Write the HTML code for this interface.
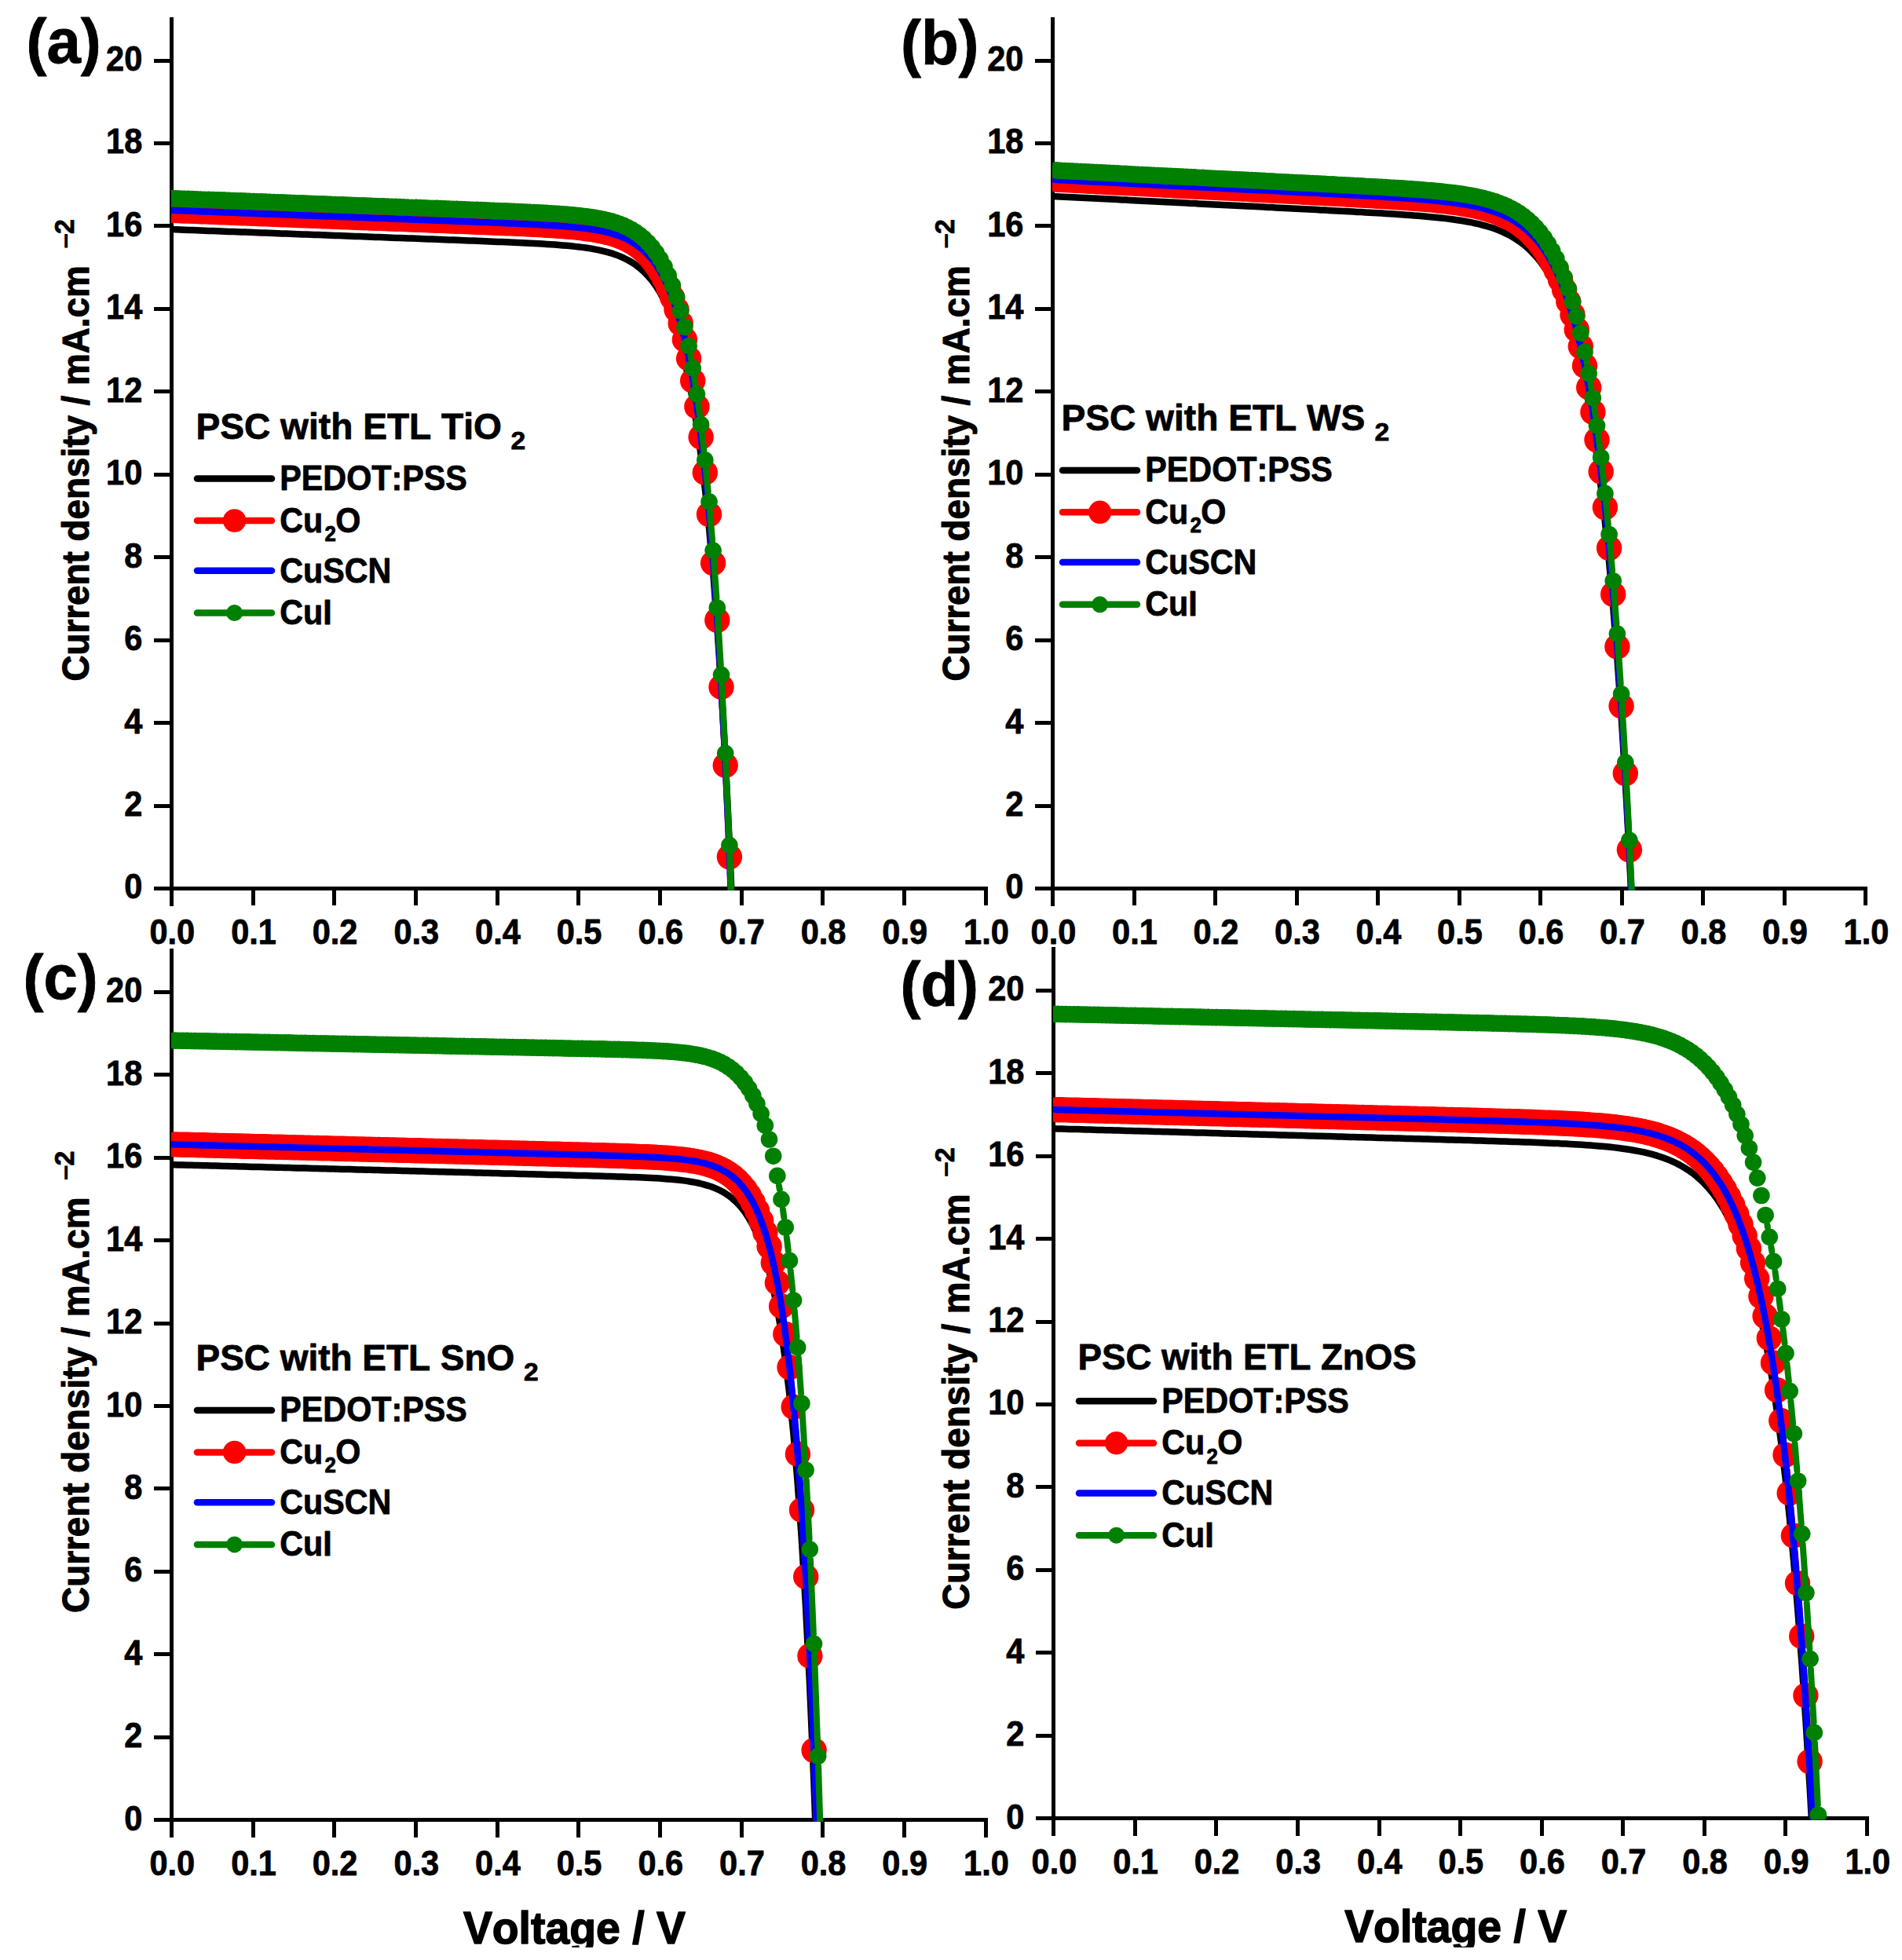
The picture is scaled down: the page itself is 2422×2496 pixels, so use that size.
<!DOCTYPE html>
<html lang="en"><head><meta charset="utf-8"><title>J-V curves of PSCs with different ETL / HTL</title>
<style>html,body{margin:0;padding:0;background:#fff}svg{display:block}text{font-family:'Liberation Sans', Arial, Helvetica, sans-serif;font-weight:bold;fill:#000;font-kerning:none;stroke:#000;stroke-width:0.8px;stroke-linejoin:round}</style></head><body>
<svg width="2422" height="2496" viewBox="0 0 2422 2496" role="img" aria-label="J-V curves">
<rect width="2422" height="2496" fill="#fff"/>
<g id="panel-a">
<g shape-rendering="crispEdges">
<rect x="216" y="21.8" width="5" height="1132.1"/>
<rect x="196" y="1128.9" width="1061.6" height="5"/>
<rect x="196" y="1023.5" width="22" height="5"/>
<rect x="196" y="918" width="22" height="5"/>
<rect x="196" y="812.6" width="22" height="5"/>
<rect x="196" y="707.1" width="22" height="5"/>
<rect x="196" y="601.7" width="22" height="5"/>
<rect x="196" y="496.3" width="22" height="5"/>
<rect x="196" y="390.8" width="22" height="5"/>
<rect x="196" y="285.4" width="22" height="5"/>
<rect x="196" y="179.9" width="22" height="5"/>
<rect x="196" y="74.5" width="22" height="5"/>
<rect x="319.7" y="1131.4" width="5" height="22"/>
<rect x="423.3" y="1131.4" width="5" height="22"/>
<rect x="527" y="1131.4" width="5" height="22"/>
<rect x="630.6" y="1131.4" width="5" height="22"/>
<rect x="734.3" y="1131.4" width="5" height="22"/>
<rect x="838" y="1131.4" width="5" height="22"/>
<rect x="941.6" y="1131.4" width="5" height="22"/>
<rect x="1045.3" y="1131.4" width="5" height="22"/>
<rect x="1148.9" y="1131.4" width="5" height="22"/>
<rect x="1252.6" y="1131.4" width="5" height="22"/>
</g>
<text transform="translate(181.3 1144.4) scale(0.955 1)" font-size="43.5" text-anchor="end">0</text>
<text transform="translate(181.3 1039) scale(0.955 1)" font-size="43.5" text-anchor="end">2</text>
<text transform="translate(181.3 933.5) scale(0.955 1)" font-size="43.5" text-anchor="end">4</text>
<text transform="translate(181.3 828.1) scale(0.955 1)" font-size="43.5" text-anchor="end">6</text>
<text transform="translate(181.3 722.6) scale(0.955 1)" font-size="43.5" text-anchor="end">8</text>
<text transform="translate(181.3 617.2) scale(0.955 1)" font-size="43.5" text-anchor="end">10</text>
<text transform="translate(181.3 511.8) scale(0.955 1)" font-size="43.5" text-anchor="end">12</text>
<text transform="translate(181.3 406.3) scale(0.955 1)" font-size="43.5" text-anchor="end">14</text>
<text transform="translate(181.3 300.9) scale(0.955 1)" font-size="43.5" text-anchor="end">16</text>
<text transform="translate(181.3 195.4) scale(0.955 1)" font-size="43.5" text-anchor="end">18</text>
<text transform="translate(181.3 90) scale(0.955 1)" font-size="43.5" text-anchor="end">20</text>
<text transform="translate(219.3 1201.8) scale(0.955 1)" font-size="43.5" text-anchor="middle">0.0</text>
<text transform="translate(323 1201.8) scale(0.955 1)" font-size="43.5" text-anchor="middle">0.1</text>
<text transform="translate(426.6 1201.8) scale(0.955 1)" font-size="43.5" text-anchor="middle">0.2</text>
<text transform="translate(530.3 1201.8) scale(0.955 1)" font-size="43.5" text-anchor="middle">0.3</text>
<text transform="translate(633.9 1201.8) scale(0.955 1)" font-size="43.5" text-anchor="middle">0.4</text>
<text transform="translate(737.6 1201.8) scale(0.955 1)" font-size="43.5" text-anchor="middle">0.5</text>
<text transform="translate(841.3 1201.8) scale(0.955 1)" font-size="43.5" text-anchor="middle">0.6</text>
<text transform="translate(944.9 1201.8) scale(0.955 1)" font-size="43.5" text-anchor="middle">0.7</text>
<text transform="translate(1048.6 1201.8) scale(0.955 1)" font-size="43.5" text-anchor="middle">0.8</text>
<text transform="translate(1152.2 1201.8) scale(0.955 1)" font-size="43.5" text-anchor="middle">0.9</text>
<text transform="translate(1255.9 1201.8) scale(0.955 1)" font-size="43.5" text-anchor="middle">1.0</text>
<text transform="translate(113.2 867.6) rotate(-90) scale(0.935 1)" font-size="49" style="stroke-width:1.1px">Current density / mA.cm</text>
<text transform="translate(95.9 317.1) rotate(-90)" font-size="35" font-weight="normal" style="stroke:none">−</text>
<text transform="translate(93.7 298.1) rotate(-90) scale(0.970 1)" font-size="35">2</text>
<text transform="translate(33.5 79.5) scale(0.975 1)" font-size="80">(a)</text>
<clipPath id="cpa"><rect x="218" y="0" width="1076.6" height="1133.4"/></clipPath>
<g clip-path="url(#cpa)">
<polyline points="214.0,291.9 219.2,292.1 224.4,292.3 229.6,292.5 234.8,292.7 240.0,292.9 245.1,293.1 250.3,293.3 255.5,293.5 260.7,293.7 265.9,293.9 271.1,294.1 276.2,294.3 281.4,294.5 286.6,294.7 291.8,294.9 297.0,295.1 302.2,295.2 307.3,295.4 312.5,295.6 317.7,295.8 322.9,296.0 328.1,296.2 333.3,296.4 338.4,296.6 343.6,296.8 348.8,297.0 354.0,297.2 359.2,297.4 364.3,297.6 369.5,297.8 374.7,298.0 379.9,298.2 385.1,298.4 390.3,298.6 395.4,298.8 400.6,299.0 405.8,299.1 411.0,299.3 416.2,299.5 421.4,299.7 426.5,299.9 431.7,300.1 436.9,300.3 442.1,300.5 447.3,300.7 452.5,300.9 457.6,301.1 462.8,301.3 468.0,301.5 473.2,301.7 478.4,301.9 483.6,302.1 488.7,302.3 493.9,302.5 499.1,302.7 504.3,302.9 509.5,303.1 514.7,303.2 519.8,303.4 525.0,303.6 530.2,303.8 535.4,304.0 540.6,304.2 545.8,304.4 550.9,304.6 556.1,304.8 561.3,305.0 566.5,305.2 571.7,305.4 576.9,305.6 582.0,305.8 587.2,306.0 592.4,306.2 597.6,306.4 602.8,306.6 608.0,306.8 613.1,307.0 618.3,307.2 623.5,307.4 628.7,307.7 633.9,307.9 639.0,308.1 644.2,308.3 649.4,308.5 654.6,308.8 659.8,309.0 665.0,309.2 670.1,309.5 675.3,309.7 680.5,310.0 685.7,310.3 690.9,310.6 696.1,310.9 701.2,311.2 706.4,311.6 711.6,312.0 716.8,312.4 722.0,312.8 727.2,313.3 732.3,313.9 737.5,314.4 742.7,315.1 747.9,315.8 753.1,316.6 758.3,317.6 763.4,318.6 768.6,319.8 773.8,321.1 779.0,322.6 784.2,324.4 789.4,326.4 794.5,328.7 799.7,331.3 804.9,334.3 810.1,337.8 815.3,341.8 820.5,346.5 825.6,351.9 830.8,358.1 836.0,365.3 841.2,373.7 846.4,383.4 851.6,394.7 856.7,407.8 861.9,423.0 867.1,440.6 872.3,461.1 877.5,485.0 882.6,512.6 887.8,544.8 893.0,582.3 898.2,625.8 903.4,676.4 908.6,735.2 913.7,803.6 918.9,883.2 924.1,975.8 929.3,1083.5 934.5,1208.8" fill="none" stroke="#000000" stroke-width="8.5" stroke-linejoin="round"/>
<path d="M894.8 576.0L895.6 582.6M899.7 621.3L901.1 635.6M904.6 674.3L906.5 697.7M909.5 736.4L912.0 770.4M914.5 809.2L917.3 855.5M919.5 894.3L922.7 955.1M924.6 994.0L928.0 1071.9M929.6 1110.7L933.3 1208.6" fill="none" stroke="#ff0000" stroke-width="8" stroke-linecap="round"/>
<g fill="#ff0000">
<circle cx="218.8" cy="267.9" r="16.2"/><circle cx="224.0" cy="268.1" r="16.2"/><circle cx="229.2" cy="268.3" r="16.2"/><circle cx="234.4" cy="268.5" r="16.2"/><circle cx="239.5" cy="268.6" r="16.2"/><circle cx="244.7" cy="268.8" r="16.2"/><circle cx="249.9" cy="269.0" r="16.2"/><circle cx="255.1" cy="269.2" r="16.2"/><circle cx="260.3" cy="269.4" r="16.2"/><circle cx="265.5" cy="269.6" r="16.2"/><circle cx="270.6" cy="269.8" r="16.2"/><circle cx="275.8" cy="270.0" r="16.2"/><circle cx="281.0" cy="270.2" r="16.2"/><circle cx="286.2" cy="270.4" r="16.2"/><circle cx="291.4" cy="270.6" r="16.2"/><circle cx="296.6" cy="270.8" r="16.2"/><circle cx="301.7" cy="271.0" r="16.2"/><circle cx="306.9" cy="271.2" r="16.2"/><circle cx="312.1" cy="271.4" r="16.2"/><circle cx="317.3" cy="271.6" r="16.2"/><circle cx="322.5" cy="271.8" r="16.2"/><circle cx="327.7" cy="272.0" r="16.2"/><circle cx="332.8" cy="272.2" r="16.2"/><circle cx="338.0" cy="272.4" r="16.2"/><circle cx="343.2" cy="272.6" r="16.2"/><circle cx="348.4" cy="272.8" r="16.2"/><circle cx="353.6" cy="273.0" r="16.2"/><circle cx="358.8" cy="273.2" r="16.2"/><circle cx="363.9" cy="273.4" r="16.2"/><circle cx="369.1" cy="273.6" r="16.2"/><circle cx="374.3" cy="273.8" r="16.2"/><circle cx="379.5" cy="274.0" r="16.2"/><circle cx="384.7" cy="274.2" r="16.2"/><circle cx="389.8" cy="274.4" r="16.2"/><circle cx="395.0" cy="274.6" r="16.2"/><circle cx="400.2" cy="274.8" r="16.2"/><circle cx="405.4" cy="275.0" r="16.2"/><circle cx="410.6" cy="275.2" r="16.2"/><circle cx="415.8" cy="275.4" r="16.2"/><circle cx="420.9" cy="275.6" r="16.2"/><circle cx="426.1" cy="275.8" r="16.2"/><circle cx="431.3" cy="276.0" r="16.2"/><circle cx="436.5" cy="276.2" r="16.2"/><circle cx="441.7" cy="276.4" r="16.2"/><circle cx="446.9" cy="276.6" r="16.2"/><circle cx="452.0" cy="276.8" r="16.2"/><circle cx="457.2" cy="277.0" r="16.2"/><circle cx="462.4" cy="277.2" r="16.2"/><circle cx="467.6" cy="277.3" r="16.2"/><circle cx="472.8" cy="277.5" r="16.2"/><circle cx="478.0" cy="277.7" r="16.2"/><circle cx="483.1" cy="277.9" r="16.2"/><circle cx="488.3" cy="278.1" r="16.2"/><circle cx="493.5" cy="278.3" r="16.2"/><circle cx="498.7" cy="278.5" r="16.2"/><circle cx="503.9" cy="278.7" r="16.2"/><circle cx="509.1" cy="278.9" r="16.2"/><circle cx="514.2" cy="279.1" r="16.2"/><circle cx="519.4" cy="279.3" r="16.2"/><circle cx="524.6" cy="279.5" r="16.2"/><circle cx="529.8" cy="279.7" r="16.2"/><circle cx="535.0" cy="279.9" r="16.2"/><circle cx="540.2" cy="280.1" r="16.2"/><circle cx="545.3" cy="280.3" r="16.2"/><circle cx="550.5" cy="280.5" r="16.2"/><circle cx="555.7" cy="280.7" r="16.2"/><circle cx="560.9" cy="280.9" r="16.2"/><circle cx="566.1" cy="281.1" r="16.2"/><circle cx="571.3" cy="281.3" r="16.2"/><circle cx="576.4" cy="281.5" r="16.2"/><circle cx="581.6" cy="281.7" r="16.2"/><circle cx="586.8" cy="281.9" r="16.2"/><circle cx="592.0" cy="282.1" r="16.2"/><circle cx="597.2" cy="282.3" r="16.2"/><circle cx="602.4" cy="282.5" r="16.2"/><circle cx="607.5" cy="282.7" r="16.2"/><circle cx="612.7" cy="282.9" r="16.2"/><circle cx="617.9" cy="283.1" r="16.2"/><circle cx="623.1" cy="283.3" r="16.2"/><circle cx="628.3" cy="283.6" r="16.2"/><circle cx="633.5" cy="283.8" r="16.2"/><circle cx="638.6" cy="284.0" r="16.2"/><circle cx="643.8" cy="284.2" r="16.2"/><circle cx="649.0" cy="284.4" r="16.2"/><circle cx="654.2" cy="284.6" r="16.2"/><circle cx="659.4" cy="284.9" r="16.2"/><circle cx="664.5" cy="285.1" r="16.2"/><circle cx="669.7" cy="285.4" r="16.2"/><circle cx="674.9" cy="285.6" r="16.2"/><circle cx="680.1" cy="285.9" r="16.2"/><circle cx="685.3" cy="286.1" r="16.2"/><circle cx="690.5" cy="286.4" r="16.2"/><circle cx="695.6" cy="286.7" r="16.2"/><circle cx="700.8" cy="287.0" r="16.2"/><circle cx="706.0" cy="287.3" r="16.2"/><circle cx="711.2" cy="287.7" r="16.2"/><circle cx="716.4" cy="288.0" r="16.2"/><circle cx="721.6" cy="288.5" r="16.2"/><circle cx="726.7" cy="288.9" r="16.2"/><circle cx="731.9" cy="289.4" r="16.2"/><circle cx="737.1" cy="289.9" r="16.2"/><circle cx="742.3" cy="290.5" r="16.2"/><circle cx="747.5" cy="291.2" r="16.2"/><circle cx="752.7" cy="291.9" r="16.2"/><circle cx="757.8" cy="292.7" r="16.2"/><circle cx="763.0" cy="293.7" r="16.2"/><circle cx="768.2" cy="294.7" r="16.2"/><circle cx="773.4" cy="295.9" r="16.2"/><circle cx="778.6" cy="297.3" r="16.2"/><circle cx="783.8" cy="298.9" r="16.2"/><circle cx="788.9" cy="300.7" r="16.2"/><circle cx="794.1" cy="302.8" r="16.2"/><circle cx="799.3" cy="305.2" r="16.2"/><circle cx="804.5" cy="308.1" r="16.2"/><circle cx="809.7" cy="311.3" r="16.2"/><circle cx="814.9" cy="315.1" r="16.2"/><circle cx="820.0" cy="319.5" r="16.2"/><circle cx="825.2" cy="324.6" r="16.2"/><circle cx="830.4" cy="330.6" r="16.2"/><circle cx="835.6" cy="337.5" r="16.2"/><circle cx="840.8" cy="345.6" r="16.2"/><circle cx="846.0" cy="355.1" r="16.2"/><circle cx="851.1" cy="366.2" r="16.2"/><circle cx="856.3" cy="379.1" r="16.2"/><circle cx="861.5" cy="394.2" r="16.2"/><circle cx="866.7" cy="411.8" r="16.2"/><circle cx="871.9" cy="432.5" r="16.2"/><circle cx="877.1" cy="456.6" r="16.2"/><circle cx="882.2" cy="484.9" r="16.2"/><circle cx="887.4" cy="517.9" r="16.2"/><circle cx="892.6" cy="556.6" r="16.2"/><circle cx="897.8" cy="601.9" r="16.2"/><circle cx="903.0" cy="655.0" r="16.2"/><circle cx="908.1" cy="717.1" r="16.2"/><circle cx="913.3" cy="789.8" r="16.2"/><circle cx="918.5" cy="874.9" r="16.2"/><circle cx="923.7" cy="974.6" r="16.2"/><circle cx="928.9" cy="1091.3" r="16.2"/>
</g>
<polyline points="213.3,267.6 218.5,267.8 223.7,268.0 228.9,268.2 234.0,268.4 239.2,268.6 244.4,268.8 249.6,269.0 254.8,269.2 260.0,269.4 265.1,269.6 270.3,269.8 275.5,270.0 280.7,270.2 285.9,270.4 291.1,270.6 296.2,270.8 301.4,271.0 306.6,271.2 311.8,271.4 317.0,271.6 322.2,271.8 327.3,272.0 332.5,272.2 337.7,272.4 342.9,272.6 348.1,272.8 353.3,273.0 358.4,273.2 363.6,273.4 368.8,273.6 374.0,273.8 379.2,274.0 384.4,274.2 389.5,274.4 394.7,274.6 399.9,274.8 405.1,275.0 410.3,275.2 415.5,275.4 420.6,275.6 425.8,275.8 431.0,276.0 436.2,276.2 441.4,276.3 446.6,276.5 451.7,276.7 456.9,276.9 462.1,277.1 467.3,277.3 472.5,277.5 477.7,277.7 482.8,277.9 488.0,278.1 493.2,278.3 498.4,278.5 503.6,278.7 508.7,278.9 513.9,279.1 519.1,279.3 524.3,279.5 529.5,279.7 534.7,279.9 539.8,280.1 545.0,280.3 550.2,280.5 555.4,280.7 560.6,280.9 565.8,281.1 570.9,281.3 576.1,281.5 581.3,281.7 586.5,281.9 591.7,282.1 596.9,282.3 602.0,282.5 607.2,282.7 612.4,282.9 617.6,283.1 622.8,283.3 628.0,283.5 633.1,283.8 638.3,284.0 643.5,284.2 648.7,284.4 653.9,284.6 659.1,284.9 664.2,285.1 669.4,285.3 674.6,285.6 679.8,285.8 685.0,286.1 690.2,286.4 695.3,286.7 700.5,287.0 705.7,287.3 710.9,287.6 716.1,288.0 721.3,288.4 726.4,288.9 731.6,289.3 736.8,289.9 742.0,290.5 747.2,291.1 752.3,291.8 757.5,292.6 762.7,293.6 767.9,294.6 773.1,295.8 778.3,297.2 783.4,298.7 788.6,300.5 793.8,302.6 799.0,305.0 804.2,307.8 809.4,311.0 814.5,314.7 819.7,319.1 824.9,324.1 830.1,330.0 835.3,336.9 840.5,344.9 845.6,354.2 850.8,365.1 856.0,377.8 861.2,392.7 866.4,410.1 871.6,430.5 876.7,454.3 881.9,482.2 887.1,514.8 892.3,552.9 897.5,597.6 902.7,649.8 907.8,711.1 913.0,782.7 918.2,866.7 923.4,964.9 928.6,1080.0 933.8,1214.8" fill="none" stroke="#0000ff" stroke-width="8.5" stroke-linejoin="round"/>
<path d="M879.4 453.3L879.9 456.1M884.2 481.6L885.4 489.1M889.1 514.7L890.9 527.7M894.1 553.4L896.3 573.0M899.0 598.8L901.7 626.0M904.0 651.9L907.1 688.2M909.1 714.0L912.4 761.0M914.1 786.9L917.7 846.3M919.2 872.2L923.0 946.3M924.3 972.2L928.3 1063.4M929.4 1089.3L933.6 1200.7" fill="none" stroke="#008000" stroke-width="8" stroke-linecap="round"/>
<g fill="#008000">
<circle cx="218.8" cy="252.6" r="10.8"/><circle cx="224.0" cy="252.8" r="10.8"/><circle cx="229.2" cy="253.0" r="10.8"/><circle cx="234.4" cy="253.2" r="10.8"/><circle cx="239.5" cy="253.4" r="10.8"/><circle cx="244.7" cy="253.6" r="10.8"/><circle cx="249.9" cy="253.8" r="10.8"/><circle cx="255.1" cy="254.0" r="10.8"/><circle cx="260.3" cy="254.2" r="10.8"/><circle cx="265.5" cy="254.3" r="10.8"/><circle cx="270.6" cy="254.5" r="10.8"/><circle cx="275.8" cy="254.7" r="10.8"/><circle cx="281.0" cy="254.9" r="10.8"/><circle cx="286.2" cy="255.1" r="10.8"/><circle cx="291.4" cy="255.3" r="10.8"/><circle cx="296.6" cy="255.5" r="10.8"/><circle cx="301.7" cy="255.7" r="10.8"/><circle cx="306.9" cy="255.9" r="10.8"/><circle cx="312.1" cy="256.1" r="10.8"/><circle cx="317.3" cy="256.3" r="10.8"/><circle cx="322.5" cy="256.5" r="10.8"/><circle cx="327.7" cy="256.7" r="10.8"/><circle cx="332.8" cy="256.9" r="10.8"/><circle cx="338.0" cy="257.1" r="10.8"/><circle cx="343.2" cy="257.3" r="10.8"/><circle cx="348.4" cy="257.5" r="10.8"/><circle cx="353.6" cy="257.7" r="10.8"/><circle cx="358.8" cy="257.9" r="10.8"/><circle cx="363.9" cy="258.1" r="10.8"/><circle cx="369.1" cy="258.3" r="10.8"/><circle cx="374.3" cy="258.5" r="10.8"/><circle cx="379.5" cy="258.7" r="10.8"/><circle cx="384.7" cy="258.9" r="10.8"/><circle cx="389.8" cy="259.1" r="10.8"/><circle cx="395.0" cy="259.3" r="10.8"/><circle cx="400.2" cy="259.5" r="10.8"/><circle cx="405.4" cy="259.7" r="10.8"/><circle cx="410.6" cy="259.9" r="10.8"/><circle cx="415.8" cy="260.1" r="10.8"/><circle cx="420.9" cy="260.3" r="10.8"/><circle cx="426.1" cy="260.5" r="10.8"/><circle cx="431.3" cy="260.7" r="10.8"/><circle cx="436.5" cy="260.9" r="10.8"/><circle cx="441.7" cy="261.1" r="10.8"/><circle cx="446.9" cy="261.3" r="10.8"/><circle cx="452.0" cy="261.5" r="10.8"/><circle cx="457.2" cy="261.7" r="10.8"/><circle cx="462.4" cy="261.9" r="10.8"/><circle cx="467.6" cy="262.1" r="10.8"/><circle cx="472.8" cy="262.3" r="10.8"/><circle cx="478.0" cy="262.5" r="10.8"/><circle cx="483.1" cy="262.7" r="10.8"/><circle cx="488.3" cy="262.9" r="10.8"/><circle cx="493.5" cy="263.0" r="10.8"/><circle cx="498.7" cy="263.2" r="10.8"/><circle cx="503.9" cy="263.4" r="10.8"/><circle cx="509.1" cy="263.6" r="10.8"/><circle cx="514.2" cy="263.8" r="10.8"/><circle cx="519.4" cy="264.0" r="10.8"/><circle cx="524.6" cy="264.2" r="10.8"/><circle cx="529.8" cy="264.4" r="10.8"/><circle cx="535.0" cy="264.6" r="10.8"/><circle cx="540.2" cy="264.8" r="10.8"/><circle cx="545.3" cy="265.0" r="10.8"/><circle cx="550.5" cy="265.2" r="10.8"/><circle cx="555.7" cy="265.4" r="10.8"/><circle cx="560.9" cy="265.6" r="10.8"/><circle cx="566.1" cy="265.8" r="10.8"/><circle cx="571.3" cy="266.0" r="10.8"/><circle cx="576.4" cy="266.2" r="10.8"/><circle cx="581.6" cy="266.4" r="10.8"/><circle cx="586.8" cy="266.6" r="10.8"/><circle cx="592.0" cy="266.8" r="10.8"/><circle cx="597.2" cy="267.0" r="10.8"/><circle cx="602.4" cy="267.2" r="10.8"/><circle cx="607.5" cy="267.4" r="10.8"/><circle cx="612.7" cy="267.6" r="10.8"/><circle cx="617.9" cy="267.9" r="10.8"/><circle cx="623.1" cy="268.1" r="10.8"/><circle cx="628.3" cy="268.3" r="10.8"/><circle cx="633.5" cy="268.5" r="10.8"/><circle cx="638.6" cy="268.7" r="10.8"/><circle cx="643.8" cy="268.9" r="10.8"/><circle cx="649.0" cy="269.1" r="10.8"/><circle cx="654.2" cy="269.4" r="10.8"/><circle cx="659.4" cy="269.6" r="10.8"/><circle cx="664.5" cy="269.8" r="10.8"/><circle cx="669.7" cy="270.1" r="10.8"/><circle cx="674.9" cy="270.3" r="10.8"/><circle cx="680.1" cy="270.6" r="10.8"/><circle cx="685.3" cy="270.8" r="10.8"/><circle cx="690.5" cy="271.1" r="10.8"/><circle cx="695.6" cy="271.4" r="10.8"/><circle cx="700.8" cy="271.7" r="10.8"/><circle cx="706.0" cy="272.0" r="10.8"/><circle cx="711.2" cy="272.4" r="10.8"/><circle cx="716.4" cy="272.7" r="10.8"/><circle cx="721.6" cy="273.1" r="10.8"/><circle cx="726.7" cy="273.6" r="10.8"/><circle cx="731.9" cy="274.1" r="10.8"/><circle cx="737.1" cy="274.6" r="10.8"/><circle cx="742.3" cy="275.2" r="10.8"/><circle cx="747.5" cy="275.8" r="10.8"/><circle cx="752.7" cy="276.5" r="10.8"/><circle cx="757.8" cy="277.4" r="10.8"/><circle cx="763.0" cy="278.3" r="10.8"/><circle cx="768.2" cy="279.3" r="10.8"/><circle cx="773.4" cy="280.5" r="10.8"/><circle cx="778.6" cy="281.9" r="10.8"/><circle cx="783.8" cy="283.5" r="10.8"/><circle cx="788.9" cy="285.3" r="10.8"/><circle cx="794.1" cy="287.4" r="10.8"/><circle cx="799.3" cy="289.8" r="10.8"/><circle cx="804.5" cy="292.6" r="10.8"/><circle cx="809.7" cy="295.8" r="10.8"/><circle cx="814.9" cy="299.6" r="10.8"/><circle cx="820.0" cy="303.9" r="10.8"/><circle cx="825.2" cy="309.0" r="10.8"/><circle cx="830.4" cy="314.9" r="10.8"/><circle cx="835.6" cy="321.9" r="10.8"/><circle cx="840.8" cy="329.9" r="10.8"/><circle cx="846.0" cy="339.3" r="10.8"/><circle cx="851.1" cy="350.4" r="10.8"/><circle cx="856.3" cy="363.2" r="10.8"/><circle cx="861.5" cy="378.3" r="10.8"/><circle cx="866.7" cy="395.9" r="10.8"/><circle cx="871.9" cy="416.5" r="10.8"/><circle cx="877.1" cy="440.6" r="10.8"/><circle cx="882.2" cy="468.8" r="10.8"/><circle cx="887.4" cy="501.9" r="10.8"/><circle cx="892.6" cy="540.6" r="10.8"/><circle cx="897.8" cy="585.9" r="10.8"/><circle cx="903.0" cy="638.9" r="10.8"/><circle cx="908.1" cy="701.1" r="10.8"/><circle cx="913.3" cy="774.0" r="10.8"/><circle cx="918.5" cy="859.3" r="10.8"/><circle cx="923.7" cy="959.3" r="10.8"/><circle cx="928.9" cy="1076.4" r="10.8"/>
</g>
</g>
<text transform="translate(249.5 558.9) scale(0.992 1)" font-size="46.5">PSC with ETL TiO</text>
<text transform="translate(650.5 571.5) scale(1.050 1)" font-size="32">2</text>
<line x1="251" y1="609.6" x2="346" y2="609.6" stroke="#000000" stroke-width="8.5" stroke-linecap="round"/>
<text transform="translate(356.3 623.8) scale(0.938 1)" font-size="44">PEDOT:PSS</text>
<line x1="251" y1="663" x2="346" y2="663" stroke="#ff0000" stroke-width="8.5" stroke-linecap="round"/>
<circle cx="298.6" cy="663" r="14.7" fill="#ff0000"/>
<text transform="translate(356.3 677.7) scale(0.938 1)" font-size="44">Cu</text>
<text transform="translate(413.5 689) scale(0.960 1)" font-size="27">2</text>
<text transform="translate(427.3 677.7) scale(0.938 1)" font-size="44">O</text>
<line x1="251" y1="726.8" x2="346" y2="726.8" stroke="#0000ff" stroke-width="8.5" stroke-linecap="round"/>
<text transform="translate(356.3 741.6) scale(0.938 1)" font-size="44">CuSCN</text>
<line x1="251" y1="780.5" x2="346" y2="780.5" stroke="#008000" stroke-width="8.5" stroke-linecap="round"/>
<circle cx="298.6" cy="780.5" r="10.5" fill="#008000"/>
<text transform="translate(356.3 795) scale(0.938 1)" font-size="44">CuI</text>
</g>
<g id="panel-b">
<g shape-rendering="crispEdges">
<rect x="1338.1" y="21.8" width="5" height="1132.1"/>
<rect x="1318.1" y="1128.9" width="1060" height="5"/>
<rect x="1318.1" y="1023.5" width="22" height="5"/>
<rect x="1318.1" y="918" width="22" height="5"/>
<rect x="1318.1" y="812.6" width="22" height="5"/>
<rect x="1318.1" y="707.1" width="22" height="5"/>
<rect x="1318.1" y="601.7" width="22" height="5"/>
<rect x="1318.1" y="496.3" width="22" height="5"/>
<rect x="1318.1" y="390.8" width="22" height="5"/>
<rect x="1318.1" y="285.4" width="22" height="5"/>
<rect x="1318.1" y="179.9" width="22" height="5"/>
<rect x="1318.1" y="74.5" width="22" height="5"/>
<rect x="1441.6" y="1131.4" width="5" height="22"/>
<rect x="1545.1" y="1131.4" width="5" height="22"/>
<rect x="1648.6" y="1131.4" width="5" height="22"/>
<rect x="1752.1" y="1131.4" width="5" height="22"/>
<rect x="1855.6" y="1131.4" width="5" height="22"/>
<rect x="1959.1" y="1131.4" width="5" height="22"/>
<rect x="2062.6" y="1131.4" width="5" height="22"/>
<rect x="2166.1" y="1131.4" width="5" height="22"/>
<rect x="2269.6" y="1131.4" width="5" height="22"/>
<rect x="2373.1" y="1131.4" width="5" height="22"/>
</g>
<text transform="translate(1303.4 1144.4) scale(0.955 1)" font-size="43.5" text-anchor="end">0</text>
<text transform="translate(1303.4 1039) scale(0.955 1)" font-size="43.5" text-anchor="end">2</text>
<text transform="translate(1303.4 933.5) scale(0.955 1)" font-size="43.5" text-anchor="end">4</text>
<text transform="translate(1303.4 828.1) scale(0.955 1)" font-size="43.5" text-anchor="end">6</text>
<text transform="translate(1303.4 722.6) scale(0.955 1)" font-size="43.5" text-anchor="end">8</text>
<text transform="translate(1303.4 617.2) scale(0.955 1)" font-size="43.5" text-anchor="end">10</text>
<text transform="translate(1303.4 511.8) scale(0.955 1)" font-size="43.5" text-anchor="end">12</text>
<text transform="translate(1303.4 406.3) scale(0.955 1)" font-size="43.5" text-anchor="end">14</text>
<text transform="translate(1303.4 300.9) scale(0.955 1)" font-size="43.5" text-anchor="end">16</text>
<text transform="translate(1303.4 195.4) scale(0.955 1)" font-size="43.5" text-anchor="end">18</text>
<text transform="translate(1303.4 90) scale(0.955 1)" font-size="43.5" text-anchor="end">20</text>
<text transform="translate(1341.4 1201.8) scale(0.955 1)" font-size="43.5" text-anchor="middle">0.0</text>
<text transform="translate(1444.9 1201.8) scale(0.955 1)" font-size="43.5" text-anchor="middle">0.1</text>
<text transform="translate(1548.4 1201.8) scale(0.955 1)" font-size="43.5" text-anchor="middle">0.2</text>
<text transform="translate(1651.9 1201.8) scale(0.955 1)" font-size="43.5" text-anchor="middle">0.3</text>
<text transform="translate(1755.4 1201.8) scale(0.955 1)" font-size="43.5" text-anchor="middle">0.4</text>
<text transform="translate(1858.9 1201.8) scale(0.955 1)" font-size="43.5" text-anchor="middle">0.5</text>
<text transform="translate(1962.4 1201.8) scale(0.955 1)" font-size="43.5" text-anchor="middle">0.6</text>
<text transform="translate(2065.9 1201.8) scale(0.955 1)" font-size="43.5" text-anchor="middle">0.7</text>
<text transform="translate(2169.4 1201.8) scale(0.955 1)" font-size="43.5" text-anchor="middle">0.8</text>
<text transform="translate(2272.9 1201.8) scale(0.955 1)" font-size="43.5" text-anchor="middle">0.9</text>
<text transform="translate(2376.4 1201.8) scale(0.955 1)" font-size="43.5" text-anchor="middle">1.0</text>
<text transform="translate(1234.1 867.6) rotate(-90) scale(0.935 1)" font-size="49" style="stroke-width:1.1px">Current density / mA.cm</text>
<text transform="translate(1216.8 317.1) rotate(-90)" font-size="35" font-weight="normal" style="stroke:none">−</text>
<text transform="translate(1214.6 298.1) rotate(-90) scale(0.970 1)" font-size="35">2</text>
<text transform="translate(1147 82.3) scale(0.975 1)" font-size="80">(b)</text>
<clipPath id="cpb"><rect x="1340.1" y="0" width="1075" height="1133.4"/></clipPath>
<g clip-path="url(#cpb)">
<polyline points="1340.1,249.9 1345.3,250.2 1350.4,250.4 1355.6,250.7 1360.8,250.9 1366.0,251.2 1371.1,251.5 1376.3,251.7 1381.5,252.0 1386.7,252.3 1391.8,252.5 1397.0,252.8 1402.2,253.1 1407.4,253.3 1412.5,253.6 1417.7,253.8 1422.9,254.1 1428.1,254.4 1433.2,254.6 1438.4,254.9 1443.6,255.2 1448.8,255.4 1453.9,255.7 1459.1,256.0 1464.3,256.2 1469.5,256.5 1474.6,256.7 1479.8,257.0 1485.0,257.3 1490.2,257.5 1495.3,257.8 1500.5,258.1 1505.7,258.3 1510.9,258.6 1516.0,258.9 1521.2,259.1 1526.4,259.4 1531.6,259.7 1536.7,259.9 1541.9,260.2 1547.1,260.4 1552.3,260.7 1557.4,261.0 1562.6,261.2 1567.8,261.5 1573.0,261.8 1578.1,262.0 1583.3,262.3 1588.5,262.6 1593.7,262.8 1598.8,263.1 1604.0,263.3 1609.2,263.6 1614.4,263.9 1619.5,264.1 1624.7,264.4 1629.9,264.7 1635.1,264.9 1640.2,265.2 1645.4,265.5 1650.6,265.7 1655.8,266.0 1660.9,266.3 1666.1,266.5 1671.3,266.8 1676.5,267.1 1681.6,267.4 1686.8,267.6 1692.0,267.9 1697.2,268.2 1702.3,268.4 1707.5,268.7 1712.7,269.0 1717.9,269.3 1723.0,269.6 1728.2,269.9 1733.4,270.1 1738.6,270.4 1743.7,270.7 1748.9,271.0 1754.1,271.3 1759.3,271.6 1764.4,272.0 1769.6,272.3 1774.8,272.6 1780.0,272.9 1785.1,273.3 1790.3,273.7 1795.5,274.0 1800.7,274.4 1805.8,274.8 1811.0,275.3 1816.2,275.7 1821.4,276.2 1826.5,276.7 1831.7,277.2 1836.9,277.8 1842.1,278.4 1847.2,279.0 1852.4,279.7 1857.6,280.5 1862.8,281.3 1867.9,282.2 1873.1,283.2 1878.3,284.3 1883.5,285.4 1888.6,286.8 1893.8,288.2 1899.0,289.8 1904.2,291.6 1909.3,293.6 1914.5,295.8 1919.7,298.3 1924.9,301.1 1930.0,304.2 1935.2,307.7 1940.4,311.6 1945.6,316.0 1950.7,321.0 1955.9,326.6 1961.1,332.8 1966.3,339.9 1971.4,348.0 1976.6,357.0 1981.8,367.2 1987.0,378.7 1992.1,391.8 1997.3,406.5 2002.5,423.1 2007.7,442.0 2012.8,463.3 2018.0,487.4 2023.2,514.7 2028.4,545.6 2033.5,580.6 2038.7,620.1 2043.9,665.0 2049.1,715.7 2054.2,773.2 2059.4,838.3 2064.6,912.0 2069.8,995.5 2074.9,1090.1 2080.1,1197.3" fill="none" stroke="#000000" stroke-width="8.5" stroke-linejoin="round"/>
<path d="M2036.0 579.5L2036.2 581.2M2040.9 619.8L2041.7 626.9M2045.8 665.6L2047.1 678.7M2050.8 717.4L2052.5 737.5M2055.7 776.2L2057.9 804.1M2060.7 842.9L2063.3 879.8M2065.8 918.6L2068.6 965.6M2070.8 1004.4L2073.9 1062.9M2075.8 1101.7L2079.2 1173.4" fill="none" stroke="#ff0000" stroke-width="8" stroke-linecap="round"/>
<g fill="#ff0000">
<circle cx="1345.3" cy="228.5" r="16.2"/><circle cx="1350.4" cy="228.8" r="16.2"/><circle cx="1355.6" cy="229.1" r="16.2"/><circle cx="1360.8" cy="229.3" r="16.2"/><circle cx="1366.0" cy="229.6" r="16.2"/><circle cx="1371.1" cy="229.9" r="16.2"/><circle cx="1376.3" cy="230.1" r="16.2"/><circle cx="1381.5" cy="230.4" r="16.2"/><circle cx="1386.7" cy="230.7" r="16.2"/><circle cx="1391.8" cy="230.9" r="16.2"/><circle cx="1397.0" cy="231.2" r="16.2"/><circle cx="1402.2" cy="231.4" r="16.2"/><circle cx="1407.4" cy="231.7" r="16.2"/><circle cx="1412.5" cy="232.0" r="16.2"/><circle cx="1417.7" cy="232.2" r="16.2"/><circle cx="1422.9" cy="232.5" r="16.2"/><circle cx="1428.1" cy="232.8" r="16.2"/><circle cx="1433.2" cy="233.0" r="16.2"/><circle cx="1438.4" cy="233.3" r="16.2"/><circle cx="1443.6" cy="233.6" r="16.2"/><circle cx="1448.8" cy="233.8" r="16.2"/><circle cx="1453.9" cy="234.1" r="16.2"/><circle cx="1459.1" cy="234.3" r="16.2"/><circle cx="1464.3" cy="234.6" r="16.2"/><circle cx="1469.5" cy="234.9" r="16.2"/><circle cx="1474.6" cy="235.1" r="16.2"/><circle cx="1479.8" cy="235.4" r="16.2"/><circle cx="1485.0" cy="235.7" r="16.2"/><circle cx="1490.2" cy="235.9" r="16.2"/><circle cx="1495.3" cy="236.2" r="16.2"/><circle cx="1500.5" cy="236.5" r="16.2"/><circle cx="1505.7" cy="236.7" r="16.2"/><circle cx="1510.9" cy="237.0" r="16.2"/><circle cx="1516.0" cy="237.2" r="16.2"/><circle cx="1521.2" cy="237.5" r="16.2"/><circle cx="1526.4" cy="237.8" r="16.2"/><circle cx="1531.6" cy="238.0" r="16.2"/><circle cx="1536.7" cy="238.3" r="16.2"/><circle cx="1541.9" cy="238.6" r="16.2"/><circle cx="1547.1" cy="238.8" r="16.2"/><circle cx="1552.3" cy="239.1" r="16.2"/><circle cx="1557.4" cy="239.4" r="16.2"/><circle cx="1562.6" cy="239.6" r="16.2"/><circle cx="1567.8" cy="239.9" r="16.2"/><circle cx="1573.0" cy="240.1" r="16.2"/><circle cx="1578.1" cy="240.4" r="16.2"/><circle cx="1583.3" cy="240.7" r="16.2"/><circle cx="1588.5" cy="240.9" r="16.2"/><circle cx="1593.7" cy="241.2" r="16.2"/><circle cx="1598.8" cy="241.5" r="16.2"/><circle cx="1604.0" cy="241.7" r="16.2"/><circle cx="1609.2" cy="242.0" r="16.2"/><circle cx="1614.4" cy="242.3" r="16.2"/><circle cx="1619.5" cy="242.5" r="16.2"/><circle cx="1624.7" cy="242.8" r="16.2"/><circle cx="1629.9" cy="243.1" r="16.2"/><circle cx="1635.1" cy="243.3" r="16.2"/><circle cx="1640.2" cy="243.6" r="16.2"/><circle cx="1645.4" cy="243.9" r="16.2"/><circle cx="1650.6" cy="244.1" r="16.2"/><circle cx="1655.8" cy="244.4" r="16.2"/><circle cx="1660.9" cy="244.7" r="16.2"/><circle cx="1666.1" cy="244.9" r="16.2"/><circle cx="1671.3" cy="245.2" r="16.2"/><circle cx="1676.5" cy="245.5" r="16.2"/><circle cx="1681.6" cy="245.7" r="16.2"/><circle cx="1686.8" cy="246.0" r="16.2"/><circle cx="1692.0" cy="246.3" r="16.2"/><circle cx="1697.2" cy="246.5" r="16.2"/><circle cx="1702.3" cy="246.8" r="16.2"/><circle cx="1707.5" cy="247.1" r="16.2"/><circle cx="1712.7" cy="247.4" r="16.2"/><circle cx="1717.9" cy="247.7" r="16.2"/><circle cx="1723.0" cy="247.9" r="16.2"/><circle cx="1728.2" cy="248.2" r="16.2"/><circle cx="1733.4" cy="248.5" r="16.2"/><circle cx="1738.6" cy="248.8" r="16.2"/><circle cx="1743.7" cy="249.1" r="16.2"/><circle cx="1748.9" cy="249.4" r="16.2"/><circle cx="1754.1" cy="249.7" r="16.2"/><circle cx="1759.3" cy="250.0" r="16.2"/><circle cx="1764.4" cy="250.3" r="16.2"/><circle cx="1769.6" cy="250.6" r="16.2"/><circle cx="1774.8" cy="251.0" r="16.2"/><circle cx="1780.0" cy="251.3" r="16.2"/><circle cx="1785.1" cy="251.6" r="16.2"/><circle cx="1790.3" cy="252.0" r="16.2"/><circle cx="1795.5" cy="252.4" r="16.2"/><circle cx="1800.7" cy="252.7" r="16.2"/><circle cx="1805.8" cy="253.1" r="16.2"/><circle cx="1811.0" cy="253.6" r="16.2"/><circle cx="1816.2" cy="254.0" r="16.2"/><circle cx="1821.4" cy="254.4" r="16.2"/><circle cx="1826.5" cy="254.9" r="16.2"/><circle cx="1831.7" cy="255.5" r="16.2"/><circle cx="1836.9" cy="256.0" r="16.2"/><circle cx="1842.1" cy="256.6" r="16.2"/><circle cx="1847.2" cy="257.2" r="16.2"/><circle cx="1852.4" cy="257.9" r="16.2"/><circle cx="1857.6" cy="258.6" r="16.2"/><circle cx="1862.8" cy="259.5" r="16.2"/><circle cx="1867.9" cy="260.3" r="16.2"/><circle cx="1873.1" cy="261.3" r="16.2"/><circle cx="1878.3" cy="262.3" r="16.2"/><circle cx="1883.5" cy="263.5" r="16.2"/><circle cx="1888.6" cy="264.8" r="16.2"/><circle cx="1893.8" cy="266.2" r="16.2"/><circle cx="1899.0" cy="267.8" r="16.2"/><circle cx="1904.2" cy="269.5" r="16.2"/><circle cx="1909.3" cy="271.5" r="16.2"/><circle cx="1914.5" cy="273.7" r="16.2"/><circle cx="1919.7" cy="276.1" r="16.2"/><circle cx="1924.9" cy="278.9" r="16.2"/><circle cx="1930.0" cy="281.9" r="16.2"/><circle cx="1935.2" cy="285.4" r="16.2"/><circle cx="1940.4" cy="289.2" r="16.2"/><circle cx="1945.6" cy="293.6" r="16.2"/><circle cx="1950.7" cy="298.5" r="16.2"/><circle cx="1955.9" cy="304.1" r="16.2"/><circle cx="1961.1" cy="310.3" r="16.2"/><circle cx="1966.3" cy="317.4" r="16.2"/><circle cx="1971.4" cy="325.4" r="16.2"/><circle cx="1976.6" cy="334.4" r="16.2"/><circle cx="1981.8" cy="344.6" r="16.2"/><circle cx="1987.0" cy="356.2" r="16.2"/><circle cx="1992.1" cy="369.2" r="16.2"/><circle cx="1997.3" cy="384.1" r="16.2"/><circle cx="2002.5" cy="400.8" r="16.2"/><circle cx="2007.7" cy="419.8" r="16.2"/><circle cx="2012.8" cy="441.3" r="16.2"/><circle cx="2018.0" cy="465.7" r="16.2"/><circle cx="2023.2" cy="493.4" r="16.2"/><circle cx="2028.4" cy="524.7" r="16.2"/><circle cx="2033.5" cy="560.2" r="16.2"/><circle cx="2038.7" cy="600.5" r="16.2"/><circle cx="2043.9" cy="646.2" r="16.2"/><circle cx="2049.1" cy="698.0" r="16.2"/><circle cx="2054.2" cy="756.8" r="16.2"/><circle cx="2059.4" cy="823.5" r="16.2"/><circle cx="2064.6" cy="899.1" r="16.2"/><circle cx="2069.8" cy="985.0" r="16.2"/><circle cx="2074.9" cy="1082.3" r="16.2"/>
</g>
<polyline points="1340.4,228.8 1345.6,229.1 1350.7,229.4 1355.9,229.6 1361.1,229.9 1366.3,230.1 1371.4,230.4 1376.6,230.7 1381.8,230.9 1387.0,231.2 1392.1,231.5 1397.3,231.7 1402.5,232.0 1407.7,232.2 1412.8,232.5 1418.0,232.8 1423.2,233.0 1428.4,233.3 1433.5,233.6 1438.7,233.8 1443.9,234.1 1449.1,234.4 1454.2,234.6 1459.4,234.9 1464.6,235.1 1469.8,235.4 1474.9,235.7 1480.1,235.9 1485.3,236.2 1490.5,236.5 1495.6,236.7 1500.8,237.0 1506.0,237.3 1511.2,237.5 1516.3,237.8 1521.5,238.1 1526.7,238.3 1531.9,238.6 1537.0,238.8 1542.2,239.1 1547.4,239.4 1552.6,239.6 1557.7,239.9 1562.9,240.2 1568.1,240.4 1573.3,240.7 1578.4,241.0 1583.6,241.2 1588.8,241.5 1594.0,241.7 1599.1,242.0 1604.3,242.3 1609.5,242.5 1614.7,242.8 1619.8,243.1 1625.0,243.3 1630.2,243.6 1635.4,243.9 1640.5,244.1 1645.7,244.4 1650.9,244.7 1656.1,244.9 1661.2,245.2 1666.4,245.5 1671.6,245.7 1676.8,246.0 1681.9,246.3 1687.1,246.5 1692.3,246.8 1697.5,247.1 1702.6,247.4 1707.8,247.6 1713.0,247.9 1718.2,248.2 1723.3,248.5 1728.5,248.8 1733.7,249.1 1738.9,249.3 1744.0,249.6 1749.2,249.9 1754.4,250.2 1759.6,250.5 1764.7,250.9 1769.9,251.2 1775.1,251.5 1780.3,251.8 1785.4,252.2 1790.6,252.5 1795.8,252.9 1801.0,253.3 1806.1,253.7 1811.3,254.1 1816.5,254.5 1821.7,255.0 1826.8,255.5 1832.0,256.0 1837.2,256.6 1842.4,257.2 1847.5,257.8 1852.7,258.5 1857.9,259.2 1863.1,260.0 1868.2,260.9 1873.4,261.9 1878.6,262.9 1883.8,264.1 1888.9,265.4 1894.1,266.8 1899.3,268.4 1904.5,270.2 1909.6,272.1 1914.8,274.3 1920.0,276.8 1925.2,279.5 1930.3,282.6 1935.5,286.1 1940.7,290.0 1945.9,294.4 1951.0,299.3 1956.2,304.9 1961.4,311.2 1966.6,318.3 1971.7,326.4 1976.9,335.5 1982.1,345.7 1987.3,357.4 1992.4,370.5 1997.6,385.5 2002.8,402.3 2008.0,421.5 2013.1,443.1 2018.3,467.7 2023.5,495.5 2028.7,527.1 2033.8,562.9 2039.0,603.4 2044.2,649.4 2049.4,701.6 2054.5,760.8 2059.7,828.0 2064.9,904.1 2070.1,990.5 2075.2,1088.6 2080.4,1199.8" fill="none" stroke="#0000ff" stroke-width="8.5" stroke-linejoin="round"/>
<path d="M2020.4 460.9L2020.8 462.9M2025.3 488.4L2026.2 494.0M2030.2 519.6L2031.7 529.4M2035.2 555.1L2037.1 569.7M2040.2 595.4L2042.4 615.5M2045.2 641.3L2047.8 667.6M2050.2 693.4L2053.1 726.8M2055.2 752.6L2058.4 794.2M2060.3 820.0L2063.7 870.8M2065.4 896.6L2069.0 957.9M2070.4 983.8L2074.3 1057.1M2075.5 1083.0L2079.5 1169.9" fill="none" stroke="#008000" stroke-width="8" stroke-linecap="round"/>
<g fill="#008000">
<circle cx="1345.3" cy="216.9" r="10.8"/><circle cx="1350.4" cy="217.2" r="10.8"/><circle cx="1355.6" cy="217.5" r="10.8"/><circle cx="1360.8" cy="217.7" r="10.8"/><circle cx="1366.0" cy="218.0" r="10.8"/><circle cx="1371.1" cy="218.3" r="10.8"/><circle cx="1376.3" cy="218.5" r="10.8"/><circle cx="1381.5" cy="218.8" r="10.8"/><circle cx="1386.7" cy="219.1" r="10.8"/><circle cx="1391.8" cy="219.3" r="10.8"/><circle cx="1397.0" cy="219.6" r="10.8"/><circle cx="1402.2" cy="219.8" r="10.8"/><circle cx="1407.4" cy="220.1" r="10.8"/><circle cx="1412.5" cy="220.4" r="10.8"/><circle cx="1417.7" cy="220.6" r="10.8"/><circle cx="1422.9" cy="220.9" r="10.8"/><circle cx="1428.1" cy="221.2" r="10.8"/><circle cx="1433.2" cy="221.4" r="10.8"/><circle cx="1438.4" cy="221.7" r="10.8"/><circle cx="1443.6" cy="222.0" r="10.8"/><circle cx="1448.8" cy="222.2" r="10.8"/><circle cx="1453.9" cy="222.5" r="10.8"/><circle cx="1459.1" cy="222.7" r="10.8"/><circle cx="1464.3" cy="223.0" r="10.8"/><circle cx="1469.5" cy="223.3" r="10.8"/><circle cx="1474.6" cy="223.5" r="10.8"/><circle cx="1479.8" cy="223.8" r="10.8"/><circle cx="1485.0" cy="224.1" r="10.8"/><circle cx="1490.2" cy="224.3" r="10.8"/><circle cx="1495.3" cy="224.6" r="10.8"/><circle cx="1500.5" cy="224.9" r="10.8"/><circle cx="1505.7" cy="225.1" r="10.8"/><circle cx="1510.9" cy="225.4" r="10.8"/><circle cx="1516.0" cy="225.6" r="10.8"/><circle cx="1521.2" cy="225.9" r="10.8"/><circle cx="1526.4" cy="226.2" r="10.8"/><circle cx="1531.6" cy="226.4" r="10.8"/><circle cx="1536.7" cy="226.7" r="10.8"/><circle cx="1541.9" cy="227.0" r="10.8"/><circle cx="1547.1" cy="227.2" r="10.8"/><circle cx="1552.3" cy="227.5" r="10.8"/><circle cx="1557.4" cy="227.8" r="10.8"/><circle cx="1562.6" cy="228.0" r="10.8"/><circle cx="1567.8" cy="228.3" r="10.8"/><circle cx="1573.0" cy="228.5" r="10.8"/><circle cx="1578.1" cy="228.8" r="10.8"/><circle cx="1583.3" cy="229.1" r="10.8"/><circle cx="1588.5" cy="229.3" r="10.8"/><circle cx="1593.7" cy="229.6" r="10.8"/><circle cx="1598.8" cy="229.9" r="10.8"/><circle cx="1604.0" cy="230.1" r="10.8"/><circle cx="1609.2" cy="230.4" r="10.8"/><circle cx="1614.4" cy="230.7" r="10.8"/><circle cx="1619.5" cy="230.9" r="10.8"/><circle cx="1624.7" cy="231.2" r="10.8"/><circle cx="1629.9" cy="231.5" r="10.8"/><circle cx="1635.1" cy="231.7" r="10.8"/><circle cx="1640.2" cy="232.0" r="10.8"/><circle cx="1645.4" cy="232.3" r="10.8"/><circle cx="1650.6" cy="232.5" r="10.8"/><circle cx="1655.8" cy="232.8" r="10.8"/><circle cx="1660.9" cy="233.1" r="10.8"/><circle cx="1666.1" cy="233.3" r="10.8"/><circle cx="1671.3" cy="233.6" r="10.8"/><circle cx="1676.5" cy="233.9" r="10.8"/><circle cx="1681.6" cy="234.1" r="10.8"/><circle cx="1686.8" cy="234.4" r="10.8"/><circle cx="1692.0" cy="234.7" r="10.8"/><circle cx="1697.2" cy="234.9" r="10.8"/><circle cx="1702.3" cy="235.2" r="10.8"/><circle cx="1707.5" cy="235.5" r="10.8"/><circle cx="1712.7" cy="235.8" r="10.8"/><circle cx="1717.9" cy="236.0" r="10.8"/><circle cx="1723.0" cy="236.3" r="10.8"/><circle cx="1728.2" cy="236.6" r="10.8"/><circle cx="1733.4" cy="236.9" r="10.8"/><circle cx="1738.6" cy="237.2" r="10.8"/><circle cx="1743.7" cy="237.5" r="10.8"/><circle cx="1748.9" cy="237.7" r="10.8"/><circle cx="1754.1" cy="238.0" r="10.8"/><circle cx="1759.3" cy="238.3" r="10.8"/><circle cx="1764.4" cy="238.6" r="10.8"/><circle cx="1769.6" cy="239.0" r="10.8"/><circle cx="1774.8" cy="239.3" r="10.8"/><circle cx="1780.0" cy="239.6" r="10.8"/><circle cx="1785.1" cy="239.9" r="10.8"/><circle cx="1790.3" cy="240.3" r="10.8"/><circle cx="1795.5" cy="240.6" r="10.8"/><circle cx="1800.7" cy="241.0" r="10.8"/><circle cx="1805.8" cy="241.4" r="10.8"/><circle cx="1811.0" cy="241.8" r="10.8"/><circle cx="1816.2" cy="242.2" r="10.8"/><circle cx="1821.4" cy="242.6" r="10.8"/><circle cx="1826.5" cy="243.1" r="10.8"/><circle cx="1831.7" cy="243.6" r="10.8"/><circle cx="1836.9" cy="244.1" r="10.8"/><circle cx="1842.1" cy="244.7" r="10.8"/><circle cx="1847.2" cy="245.3" r="10.8"/><circle cx="1852.4" cy="245.9" r="10.8"/><circle cx="1857.6" cy="246.6" r="10.8"/><circle cx="1862.8" cy="247.4" r="10.8"/><circle cx="1867.9" cy="248.2" r="10.8"/><circle cx="1873.1" cy="249.1" r="10.8"/><circle cx="1878.3" cy="250.1" r="10.8"/><circle cx="1883.5" cy="251.2" r="10.8"/><circle cx="1888.6" cy="252.4" r="10.8"/><circle cx="1893.8" cy="253.8" r="10.8"/><circle cx="1899.0" cy="255.2" r="10.8"/><circle cx="1904.2" cy="256.9" r="10.8"/><circle cx="1909.3" cy="258.7" r="10.8"/><circle cx="1914.5" cy="260.8" r="10.8"/><circle cx="1919.7" cy="263.1" r="10.8"/><circle cx="1924.9" cy="265.7" r="10.8"/><circle cx="1930.0" cy="268.6" r="10.8"/><circle cx="1935.2" cy="271.9" r="10.8"/><circle cx="1940.4" cy="275.6" r="10.8"/><circle cx="1945.6" cy="279.8" r="10.8"/><circle cx="1950.7" cy="284.5" r="10.8"/><circle cx="1955.9" cy="289.8" r="10.8"/><circle cx="1961.1" cy="295.9" r="10.8"/><circle cx="1966.3" cy="302.7" r="10.8"/><circle cx="1971.4" cy="310.4" r="10.8"/><circle cx="1976.6" cy="319.2" r="10.8"/><circle cx="1981.8" cy="329.1" r="10.8"/><circle cx="1987.0" cy="340.4" r="10.8"/><circle cx="1992.1" cy="353.1" r="10.8"/><circle cx="1997.3" cy="367.6" r="10.8"/><circle cx="2002.5" cy="384.1" r="10.8"/><circle cx="2007.7" cy="402.8" r="10.8"/><circle cx="2012.8" cy="424.1" r="10.8"/><circle cx="2018.0" cy="448.2" r="10.8"/><circle cx="2023.2" cy="475.6" r="10.8"/><circle cx="2028.4" cy="506.8" r="10.8"/><circle cx="2033.5" cy="542.2" r="10.8"/><circle cx="2038.7" cy="582.5" r="10.8"/><circle cx="2043.9" cy="628.4" r="10.8"/><circle cx="2049.1" cy="680.5" r="10.8"/><circle cx="2054.2" cy="739.7" r="10.8"/><circle cx="2059.4" cy="807.1" r="10.8"/><circle cx="2064.6" cy="883.7" r="10.8"/><circle cx="2069.8" cy="970.9" r="10.8"/><circle cx="2074.9" cy="1070.0" r="10.8"/>
</g>
</g>
<text transform="translate(1351.5 548.2) scale(0.992 1)" font-size="46.5">PSC with ETL WS</text>
<text transform="translate(1750.5 560.8) scale(1.050 1)" font-size="32">2</text>
<line x1="1353" y1="598.9" x2="1448" y2="598.9" stroke="#000000" stroke-width="8.5" stroke-linecap="round"/>
<text transform="translate(1458.3 613.1) scale(0.938 1)" font-size="44">PEDOT:PSS</text>
<line x1="1353" y1="652.3" x2="1448" y2="652.3" stroke="#ff0000" stroke-width="8.5" stroke-linecap="round"/>
<circle cx="1400.6" cy="652.3" r="14.7" fill="#ff0000"/>
<text transform="translate(1458.3 667) scale(0.938 1)" font-size="44">Cu</text>
<text transform="translate(1515.5 678.3) scale(0.960 1)" font-size="27">2</text>
<text transform="translate(1529.3 667) scale(0.938 1)" font-size="44">O</text>
<line x1="1353" y1="716.1" x2="1448" y2="716.1" stroke="#0000ff" stroke-width="8.5" stroke-linecap="round"/>
<text transform="translate(1458.3 730.9) scale(0.938 1)" font-size="44">CuSCN</text>
<line x1="1353" y1="769.8" x2="1448" y2="769.8" stroke="#008000" stroke-width="8.5" stroke-linecap="round"/>
<circle cx="1400.6" cy="769.8" r="10.5" fill="#008000"/>
<text transform="translate(1458.3 784.3) scale(0.938 1)" font-size="44">CuI</text>
</g>
<g id="panel-c">
<g shape-rendering="crispEdges">
<rect x="216" y="1208.1" width="5" height="1132.1"/>
<rect x="196" y="2315.2" width="1061.6" height="5"/>
<rect x="196" y="2209.8" width="22" height="5"/>
<rect x="196" y="2104.3" width="22" height="5"/>
<rect x="196" y="1998.9" width="22" height="5"/>
<rect x="196" y="1893.4" width="22" height="5"/>
<rect x="196" y="1788" width="22" height="5"/>
<rect x="196" y="1682.6" width="22" height="5"/>
<rect x="196" y="1577.1" width="22" height="5"/>
<rect x="196" y="1471.7" width="22" height="5"/>
<rect x="196" y="1366.2" width="22" height="5"/>
<rect x="196" y="1260.8" width="22" height="5"/>
<rect x="319.7" y="2317.7" width="5" height="22"/>
<rect x="423.3" y="2317.7" width="5" height="22"/>
<rect x="527" y="2317.7" width="5" height="22"/>
<rect x="630.6" y="2317.7" width="5" height="22"/>
<rect x="734.3" y="2317.7" width="5" height="22"/>
<rect x="838" y="2317.7" width="5" height="22"/>
<rect x="941.6" y="2317.7" width="5" height="22"/>
<rect x="1045.3" y="2317.7" width="5" height="22"/>
<rect x="1148.9" y="2317.7" width="5" height="22"/>
<rect x="1252.6" y="2317.7" width="5" height="22"/>
</g>
<text transform="translate(181.3 2330.7) scale(0.955 1)" font-size="43.5" text-anchor="end">0</text>
<text transform="translate(181.3 2225.3) scale(0.955 1)" font-size="43.5" text-anchor="end">2</text>
<text transform="translate(181.3 2119.8) scale(0.955 1)" font-size="43.5" text-anchor="end">4</text>
<text transform="translate(181.3 2014.4) scale(0.955 1)" font-size="43.5" text-anchor="end">6</text>
<text transform="translate(181.3 1908.9) scale(0.955 1)" font-size="43.5" text-anchor="end">8</text>
<text transform="translate(181.3 1803.5) scale(0.955 1)" font-size="43.5" text-anchor="end">10</text>
<text transform="translate(181.3 1698.1) scale(0.955 1)" font-size="43.5" text-anchor="end">12</text>
<text transform="translate(181.3 1592.6) scale(0.955 1)" font-size="43.5" text-anchor="end">14</text>
<text transform="translate(181.3 1487.2) scale(0.955 1)" font-size="43.5" text-anchor="end">16</text>
<text transform="translate(181.3 1381.7) scale(0.955 1)" font-size="43.5" text-anchor="end">18</text>
<text transform="translate(181.3 1276.3) scale(0.955 1)" font-size="43.5" text-anchor="end">20</text>
<text transform="translate(219.3 2388.1) scale(0.955 1)" font-size="43.5" text-anchor="middle">0.0</text>
<text transform="translate(323 2388.1) scale(0.955 1)" font-size="43.5" text-anchor="middle">0.1</text>
<text transform="translate(426.6 2388.1) scale(0.955 1)" font-size="43.5" text-anchor="middle">0.2</text>
<text transform="translate(530.3 2388.1) scale(0.955 1)" font-size="43.5" text-anchor="middle">0.3</text>
<text transform="translate(633.9 2388.1) scale(0.955 1)" font-size="43.5" text-anchor="middle">0.4</text>
<text transform="translate(737.6 2388.1) scale(0.955 1)" font-size="43.5" text-anchor="middle">0.5</text>
<text transform="translate(841.3 2388.1) scale(0.955 1)" font-size="43.5" text-anchor="middle">0.6</text>
<text transform="translate(944.9 2388.1) scale(0.955 1)" font-size="43.5" text-anchor="middle">0.7</text>
<text transform="translate(1048.6 2388.1) scale(0.955 1)" font-size="43.5" text-anchor="middle">0.8</text>
<text transform="translate(1152.2 2388.1) scale(0.955 1)" font-size="43.5" text-anchor="middle">0.9</text>
<text transform="translate(1255.9 2388.1) scale(0.955 1)" font-size="43.5" text-anchor="middle">1.0</text>
<text transform="translate(113.2 2053.9) rotate(-90) scale(0.935 1)" font-size="49" style="stroke-width:1.1px">Current density / mA.cm</text>
<text transform="translate(95.9 1503.4) rotate(-90)" font-size="35" font-weight="normal" style="stroke:none">−</text>
<text transform="translate(93.7 1484.4) rotate(-90) scale(0.970 1)" font-size="35">2</text>
<text transform="translate(29.5 1271.8) scale(0.975 1)" font-size="80">(c)</text>
<clipPath id="cpc"><rect x="218" y="0" width="1076.6" height="2319.7"/></clipPath>
<g clip-path="url(#cpc)">
<polyline points="217.3,1483.1 222.4,1483.2 227.6,1483.4 232.8,1483.5 238.0,1483.7 243.2,1483.8 248.4,1483.9 253.5,1484.1 258.7,1484.2 263.9,1484.3 269.1,1484.5 274.3,1484.6 279.5,1484.8 284.6,1484.9 289.8,1485.0 295.0,1485.2 300.2,1485.3 305.4,1485.4 310.6,1485.6 315.7,1485.7 320.9,1485.9 326.1,1486.0 331.3,1486.1 336.5,1486.3 341.6,1486.4 346.8,1486.5 352.0,1486.7 357.2,1486.8 362.4,1486.9 367.6,1487.1 372.7,1487.2 377.9,1487.4 383.1,1487.5 388.3,1487.6 393.5,1487.8 398.7,1487.9 403.8,1488.0 409.0,1488.2 414.2,1488.3 419.4,1488.5 424.6,1488.6 429.8,1488.7 434.9,1488.9 440.1,1489.0 445.3,1489.1 450.5,1489.3 455.7,1489.4 460.9,1489.6 466.0,1489.7 471.2,1489.8 476.4,1490.0 481.6,1490.1 486.8,1490.2 492.0,1490.4 497.1,1490.5 502.3,1490.6 507.5,1490.8 512.7,1490.9 517.9,1491.1 523.1,1491.2 528.2,1491.3 533.4,1491.5 538.6,1491.6 543.8,1491.7 549.0,1491.9 554.2,1492.0 559.3,1492.2 564.5,1492.3 569.7,1492.4 574.9,1492.6 580.1,1492.7 585.2,1492.8 590.4,1493.0 595.6,1493.1 600.8,1493.3 606.0,1493.4 611.2,1493.5 616.3,1493.7 621.5,1493.8 626.7,1493.9 631.9,1494.1 637.1,1494.2 642.3,1494.4 647.4,1494.5 652.6,1494.6 657.8,1494.8 663.0,1494.9 668.2,1495.0 673.4,1495.2 678.5,1495.3 683.7,1495.5 688.9,1495.6 694.1,1495.7 699.3,1495.9 704.5,1496.0 709.6,1496.1 714.8,1496.3 720.0,1496.4 725.2,1496.6 730.4,1496.7 735.6,1496.9 740.7,1497.0 745.9,1497.1 751.1,1497.3 756.3,1497.4 761.5,1497.6 766.7,1497.7 771.8,1497.9 777.0,1498.1 782.2,1498.2 787.4,1498.4 792.6,1498.6 797.8,1498.7 802.9,1498.9 808.1,1499.1 813.3,1499.3 818.5,1499.6 823.7,1499.8 828.9,1500.1 834.0,1500.3 839.2,1500.6 844.4,1501.0 849.6,1501.4 854.8,1501.8 859.9,1502.3 865.1,1502.8 870.3,1503.4 875.5,1504.1 880.7,1505.0 885.9,1505.9 891.0,1507.0 896.2,1508.3 901.4,1509.8 906.6,1511.5 911.8,1513.6 917.0,1516.0 922.1,1518.8 927.3,1522.2 932.5,1526.2 937.7,1530.8 942.9,1536.4 948.1,1542.9 953.2,1550.7 958.4,1559.8 963.6,1570.7 968.8,1583.6 974.0,1599.0 979.2,1617.1 984.3,1638.7 989.5,1664.3 994.7,1694.7 999.9,1730.8 1005.1,1773.6 1010.3,1824.5 1015.4,1884.9 1020.6,1956.7 1025.8,2041.9 1031.0,2143.2 1036.2,2263.5 1041.4,2406.4" fill="none" stroke="#000000" stroke-width="8.5" stroke-linejoin="round"/>
<path d="M1002.7 1718.3L1003.1 1722.0M1007.5 1760.7L1008.7 1772.4M1012.3 1811.1L1014.2 1832.3M1017.3 1871.0L1019.6 1903.6M1022.2 1942.4L1025.0 1988.4M1027.2 2027.3L1030.4 2089.4M1032.2 2128.3L1035.7 2209.6M1037.3 2248.5L1041.1 2352.7" fill="none" stroke="#ff0000" stroke-width="8" stroke-linecap="round"/>
<g fill="#ff0000">
<circle cx="222.9" cy="1457.4" r="16.2"/><circle cx="228.0" cy="1457.6" r="16.2"/><circle cx="233.2" cy="1457.7" r="16.2"/><circle cx="238.4" cy="1457.8" r="16.2"/><circle cx="243.6" cy="1457.9" r="16.2"/><circle cx="248.8" cy="1458.1" r="16.2"/><circle cx="254.0" cy="1458.2" r="16.2"/><circle cx="259.1" cy="1458.3" r="16.2"/><circle cx="264.3" cy="1458.5" r="16.2"/><circle cx="269.5" cy="1458.6" r="16.2"/><circle cx="274.7" cy="1458.7" r="16.2"/><circle cx="279.9" cy="1458.9" r="16.2"/><circle cx="285.0" cy="1459.0" r="16.2"/><circle cx="290.2" cy="1459.1" r="16.2"/><circle cx="295.4" cy="1459.3" r="16.2"/><circle cx="300.6" cy="1459.4" r="16.2"/><circle cx="305.8" cy="1459.5" r="16.2"/><circle cx="311.0" cy="1459.7" r="16.2"/><circle cx="316.1" cy="1459.8" r="16.2"/><circle cx="321.3" cy="1459.9" r="16.2"/><circle cx="326.5" cy="1460.1" r="16.2"/><circle cx="331.7" cy="1460.2" r="16.2"/><circle cx="336.9" cy="1460.3" r="16.2"/><circle cx="342.1" cy="1460.5" r="16.2"/><circle cx="347.2" cy="1460.6" r="16.2"/><circle cx="352.4" cy="1460.7" r="16.2"/><circle cx="357.6" cy="1460.8" r="16.2"/><circle cx="362.8" cy="1461.0" r="16.2"/><circle cx="368.0" cy="1461.1" r="16.2"/><circle cx="373.2" cy="1461.2" r="16.2"/><circle cx="378.3" cy="1461.4" r="16.2"/><circle cx="383.5" cy="1461.5" r="16.2"/><circle cx="388.7" cy="1461.6" r="16.2"/><circle cx="393.9" cy="1461.8" r="16.2"/><circle cx="399.1" cy="1461.9" r="16.2"/><circle cx="404.3" cy="1462.0" r="16.2"/><circle cx="409.4" cy="1462.2" r="16.2"/><circle cx="414.6" cy="1462.3" r="16.2"/><circle cx="419.8" cy="1462.4" r="16.2"/><circle cx="425.0" cy="1462.6" r="16.2"/><circle cx="430.2" cy="1462.7" r="16.2"/><circle cx="435.4" cy="1462.8" r="16.2"/><circle cx="440.5" cy="1463.0" r="16.2"/><circle cx="445.7" cy="1463.1" r="16.2"/><circle cx="450.9" cy="1463.2" r="16.2"/><circle cx="456.1" cy="1463.4" r="16.2"/><circle cx="461.3" cy="1463.5" r="16.2"/><circle cx="466.5" cy="1463.6" r="16.2"/><circle cx="471.6" cy="1463.7" r="16.2"/><circle cx="476.8" cy="1463.9" r="16.2"/><circle cx="482.0" cy="1464.0" r="16.2"/><circle cx="487.2" cy="1464.1" r="16.2"/><circle cx="492.4" cy="1464.3" r="16.2"/><circle cx="497.6" cy="1464.4" r="16.2"/><circle cx="502.7" cy="1464.5" r="16.2"/><circle cx="507.9" cy="1464.7" r="16.2"/><circle cx="513.1" cy="1464.8" r="16.2"/><circle cx="518.3" cy="1464.9" r="16.2"/><circle cx="523.5" cy="1465.1" r="16.2"/><circle cx="528.7" cy="1465.2" r="16.2"/><circle cx="533.8" cy="1465.3" r="16.2"/><circle cx="539.0" cy="1465.5" r="16.2"/><circle cx="544.2" cy="1465.6" r="16.2"/><circle cx="549.4" cy="1465.7" r="16.2"/><circle cx="554.6" cy="1465.9" r="16.2"/><circle cx="559.7" cy="1466.0" r="16.2"/><circle cx="564.9" cy="1466.1" r="16.2"/><circle cx="570.1" cy="1466.3" r="16.2"/><circle cx="575.3" cy="1466.4" r="16.2"/><circle cx="580.5" cy="1466.5" r="16.2"/><circle cx="585.7" cy="1466.6" r="16.2"/><circle cx="590.8" cy="1466.8" r="16.2"/><circle cx="596.0" cy="1466.9" r="16.2"/><circle cx="601.2" cy="1467.0" r="16.2"/><circle cx="606.4" cy="1467.2" r="16.2"/><circle cx="611.6" cy="1467.3" r="16.2"/><circle cx="616.8" cy="1467.4" r="16.2"/><circle cx="621.9" cy="1467.6" r="16.2"/><circle cx="627.1" cy="1467.7" r="16.2"/><circle cx="632.3" cy="1467.8" r="16.2"/><circle cx="637.5" cy="1468.0" r="16.2"/><circle cx="642.7" cy="1468.1" r="16.2"/><circle cx="647.9" cy="1468.2" r="16.2"/><circle cx="653.0" cy="1468.4" r="16.2"/><circle cx="658.2" cy="1468.5" r="16.2"/><circle cx="663.4" cy="1468.6" r="16.2"/><circle cx="668.6" cy="1468.8" r="16.2"/><circle cx="673.8" cy="1468.9" r="16.2"/><circle cx="679.0" cy="1469.0" r="16.2"/><circle cx="684.1" cy="1469.2" r="16.2"/><circle cx="689.3" cy="1469.3" r="16.2"/><circle cx="694.5" cy="1469.4" r="16.2"/><circle cx="699.7" cy="1469.6" r="16.2"/><circle cx="704.9" cy="1469.7" r="16.2"/><circle cx="710.1" cy="1469.8" r="16.2"/><circle cx="715.2" cy="1470.0" r="16.2"/><circle cx="720.4" cy="1470.1" r="16.2"/><circle cx="725.6" cy="1470.2" r="16.2"/><circle cx="730.8" cy="1470.4" r="16.2"/><circle cx="736.0" cy="1470.5" r="16.2"/><circle cx="741.2" cy="1470.6" r="16.2"/><circle cx="746.3" cy="1470.8" r="16.2"/><circle cx="751.5" cy="1470.9" r="16.2"/><circle cx="756.7" cy="1471.1" r="16.2"/><circle cx="761.9" cy="1471.2" r="16.2"/><circle cx="767.1" cy="1471.3" r="16.2"/><circle cx="772.3" cy="1471.5" r="16.2"/><circle cx="777.4" cy="1471.6" r="16.2"/><circle cx="782.6" cy="1471.8" r="16.2"/><circle cx="787.8" cy="1472.0" r="16.2"/><circle cx="793.0" cy="1472.1" r="16.2"/><circle cx="798.2" cy="1472.3" r="16.2"/><circle cx="803.3" cy="1472.5" r="16.2"/><circle cx="808.5" cy="1472.7" r="16.2"/><circle cx="813.7" cy="1472.9" r="16.2"/><circle cx="818.9" cy="1473.1" r="16.2"/><circle cx="824.1" cy="1473.3" r="16.2"/><circle cx="829.3" cy="1473.5" r="16.2"/><circle cx="834.4" cy="1473.8" r="16.2"/><circle cx="839.6" cy="1474.1" r="16.2"/><circle cx="844.8" cy="1474.4" r="16.2"/><circle cx="850.0" cy="1474.8" r="16.2"/><circle cx="855.2" cy="1475.2" r="16.2"/><circle cx="860.4" cy="1475.6" r="16.2"/><circle cx="865.5" cy="1476.2" r="16.2"/><circle cx="870.7" cy="1476.7" r="16.2"/><circle cx="875.9" cy="1477.4" r="16.2"/><circle cx="881.1" cy="1478.2" r="16.2"/><circle cx="886.3" cy="1479.1" r="16.2"/><circle cx="891.5" cy="1480.1" r="16.2"/><circle cx="896.6" cy="1481.4" r="16.2"/><circle cx="901.8" cy="1482.8" r="16.2"/><circle cx="907.0" cy="1484.5" r="16.2"/><circle cx="912.2" cy="1486.4" r="16.2"/><circle cx="917.4" cy="1488.7" r="16.2"/><circle cx="922.6" cy="1491.5" r="16.2"/><circle cx="927.7" cy="1494.7" r="16.2"/><circle cx="932.9" cy="1498.5" r="16.2"/><circle cx="938.1" cy="1503.0" r="16.2"/><circle cx="943.3" cy="1508.4" r="16.2"/><circle cx="948.5" cy="1514.7" r="16.2"/><circle cx="953.7" cy="1522.2" r="16.2"/><circle cx="958.8" cy="1531.2" r="16.2"/><circle cx="964.0" cy="1541.8" r="16.2"/><circle cx="969.2" cy="1554.4" r="16.2"/><circle cx="974.4" cy="1569.4" r="16.2"/><circle cx="979.6" cy="1587.2" r="16.2"/><circle cx="984.8" cy="1608.3" r="16.2"/><circle cx="989.9" cy="1633.5" r="16.2"/><circle cx="995.1" cy="1663.4" r="16.2"/><circle cx="1000.3" cy="1699.0" r="16.2"/><circle cx="1005.5" cy="1741.3" r="16.2"/><circle cx="1010.7" cy="1791.7" r="16.2"/><circle cx="1015.9" cy="1851.7" r="16.2"/><circle cx="1021.0" cy="1923.0" r="16.2"/><circle cx="1026.2" cy="2007.9" r="16.2"/><circle cx="1031.4" cy="2108.8" r="16.2"/><circle cx="1036.6" cy="2229.0" r="16.2"/>
</g>
<polyline points="213.7,1457.2 218.9,1457.3 224.1,1457.5 229.3,1457.6 234.5,1457.7 239.6,1457.8 244.8,1458.0 250.0,1458.1 255.2,1458.2 260.4,1458.4 265.6,1458.5 270.7,1458.6 275.9,1458.8 281.1,1458.9 286.3,1459.0 291.5,1459.2 296.7,1459.3 301.8,1459.4 307.0,1459.6 312.2,1459.7 317.4,1459.8 322.6,1460.0 327.8,1460.1 332.9,1460.2 338.1,1460.4 343.3,1460.5 348.5,1460.6 353.7,1460.7 358.9,1460.9 364.0,1461.0 369.2,1461.1 374.4,1461.3 379.6,1461.4 384.8,1461.5 390.0,1461.7 395.1,1461.8 400.3,1461.9 405.5,1462.1 410.7,1462.2 415.9,1462.3 421.1,1462.5 426.2,1462.6 431.4,1462.7 436.6,1462.9 441.8,1463.0 447.0,1463.1 452.1,1463.3 457.3,1463.4 462.5,1463.5 467.7,1463.6 472.9,1463.8 478.1,1463.9 483.2,1464.0 488.4,1464.2 493.6,1464.3 498.8,1464.4 504.0,1464.6 509.2,1464.7 514.3,1464.8 519.5,1465.0 524.7,1465.1 529.9,1465.2 535.1,1465.4 540.3,1465.5 545.4,1465.6 550.6,1465.8 555.8,1465.9 561.0,1466.0 566.2,1466.2 571.4,1466.3 576.5,1466.4 581.7,1466.5 586.9,1466.7 592.1,1466.8 597.3,1466.9 602.5,1467.1 607.6,1467.2 612.8,1467.3 618.0,1467.5 623.2,1467.6 628.4,1467.7 633.6,1467.9 638.7,1468.0 643.9,1468.1 649.1,1468.3 654.3,1468.4 659.5,1468.5 664.7,1468.7 669.8,1468.8 675.0,1468.9 680.2,1469.1 685.4,1469.2 690.6,1469.3 695.8,1469.5 700.9,1469.6 706.1,1469.7 711.3,1469.9 716.5,1470.0 721.7,1470.1 726.8,1470.3 732.0,1470.4 737.2,1470.5 742.4,1470.7 747.6,1470.8 752.8,1470.9 757.9,1471.1 763.1,1471.2 768.3,1471.4 773.5,1471.5 778.7,1471.7 783.9,1471.8 789.0,1472.0 794.2,1472.2 799.4,1472.3 804.6,1472.5 809.8,1472.7 815.0,1472.9 820.1,1473.1 825.3,1473.4 830.5,1473.6 835.7,1473.9 840.9,1474.2 846.1,1474.5 851.2,1474.9 856.4,1475.3 861.6,1475.8 866.8,1476.3 872.0,1476.9 877.2,1477.6 882.3,1478.4 887.5,1479.3 892.7,1480.4 897.9,1481.7 903.1,1483.2 908.3,1484.9 913.4,1486.9 918.6,1489.4 923.8,1492.2 929.0,1495.6 934.2,1499.5 939.4,1504.2 944.5,1509.8 949.7,1516.4 954.9,1524.3 960.1,1533.6 965.3,1544.6 970.4,1557.7 975.6,1573.4 980.8,1591.9 986.0,1614.0 991.2,1640.2 996.4,1671.4 1001.5,1708.5 1006.7,1752.6 1011.9,1805.2 1017.1,1867.7 1022.3,1942.0 1027.5,2030.5 1032.6,2135.8 1037.8,2261.1 1043.0,2410.3" fill="none" stroke="#0000ff" stroke-width="8.5" stroke-linejoin="round"/>
<path d="M992.0 1510.2L992.8 1514.6M996.9 1540.2L998.3 1550.2M1001.8 1575.9L1003.8 1592.5M1006.7 1618.3L1009.2 1642.9M1011.7 1668.7L1014.6 1702.9M1016.7 1728.7L1020.0 1774.2M1021.7 1800.1L1025.3 1859.1M1026.8 1885.0L1030.6 1960.2M1031.9 1986.0L1035.9 2080.3M1037.0 2106.2L1041.2 2223.4M1042.1 2249.3L1046.5 2393.5" fill="none" stroke="#008000" stroke-width="8" stroke-linecap="round"/>
<g fill="#008000">
<circle cx="222.8" cy="1325.1" r="10.8"/><circle cx="227.9" cy="1325.2" r="10.8"/><circle cx="233.1" cy="1325.3" r="10.8"/><circle cx="238.3" cy="1325.4" r="10.8"/><circle cx="243.5" cy="1325.5" r="10.8"/><circle cx="248.7" cy="1325.6" r="10.8"/><circle cx="253.8" cy="1325.7" r="10.8"/><circle cx="259.0" cy="1325.8" r="10.8"/><circle cx="264.2" cy="1325.9" r="10.8"/><circle cx="269.4" cy="1326.0" r="10.8"/><circle cx="274.6" cy="1326.1" r="10.8"/><circle cx="279.8" cy="1326.2" r="10.8"/><circle cx="284.9" cy="1326.3" r="10.8"/><circle cx="290.1" cy="1326.4" r="10.8"/><circle cx="295.3" cy="1326.5" r="10.8"/><circle cx="300.5" cy="1326.6" r="10.8"/><circle cx="305.7" cy="1326.7" r="10.8"/><circle cx="310.9" cy="1326.8" r="10.8"/><circle cx="316.0" cy="1326.9" r="10.8"/><circle cx="321.2" cy="1327.0" r="10.8"/><circle cx="326.4" cy="1327.1" r="10.8"/><circle cx="331.6" cy="1327.2" r="10.8"/><circle cx="336.8" cy="1327.3" r="10.8"/><circle cx="342.0" cy="1327.4" r="10.8"/><circle cx="347.1" cy="1327.5" r="10.8"/><circle cx="352.3" cy="1327.6" r="10.8"/><circle cx="357.5" cy="1327.7" r="10.8"/><circle cx="362.7" cy="1327.8" r="10.8"/><circle cx="367.9" cy="1327.9" r="10.8"/><circle cx="373.1" cy="1328.0" r="10.8"/><circle cx="378.2" cy="1328.2" r="10.8"/><circle cx="383.4" cy="1328.3" r="10.8"/><circle cx="388.6" cy="1328.4" r="10.8"/><circle cx="393.8" cy="1328.5" r="10.8"/><circle cx="399.0" cy="1328.6" r="10.8"/><circle cx="404.2" cy="1328.7" r="10.8"/><circle cx="409.3" cy="1328.8" r="10.8"/><circle cx="414.5" cy="1328.9" r="10.8"/><circle cx="419.7" cy="1329.0" r="10.8"/><circle cx="424.9" cy="1329.1" r="10.8"/><circle cx="430.1" cy="1329.2" r="10.8"/><circle cx="435.3" cy="1329.3" r="10.8"/><circle cx="440.4" cy="1329.4" r="10.8"/><circle cx="445.6" cy="1329.5" r="10.8"/><circle cx="450.8" cy="1329.6" r="10.8"/><circle cx="456.0" cy="1329.7" r="10.8"/><circle cx="461.2" cy="1329.8" r="10.8"/><circle cx="466.4" cy="1329.9" r="10.8"/><circle cx="471.5" cy="1330.0" r="10.8"/><circle cx="476.7" cy="1330.1" r="10.8"/><circle cx="481.9" cy="1330.2" r="10.8"/><circle cx="487.1" cy="1330.3" r="10.8"/><circle cx="492.3" cy="1330.4" r="10.8"/><circle cx="497.4" cy="1330.5" r="10.8"/><circle cx="502.6" cy="1330.6" r="10.8"/><circle cx="507.8" cy="1330.7" r="10.8"/><circle cx="513.0" cy="1330.8" r="10.8"/><circle cx="518.2" cy="1330.9" r="10.8"/><circle cx="523.4" cy="1331.0" r="10.8"/><circle cx="528.5" cy="1331.1" r="10.8"/><circle cx="533.7" cy="1331.2" r="10.8"/><circle cx="538.9" cy="1331.3" r="10.8"/><circle cx="544.1" cy="1331.4" r="10.8"/><circle cx="549.3" cy="1331.5" r="10.8"/><circle cx="554.5" cy="1331.6" r="10.8"/><circle cx="559.6" cy="1331.7" r="10.8"/><circle cx="564.8" cy="1331.9" r="10.8"/><circle cx="570.0" cy="1332.0" r="10.8"/><circle cx="575.2" cy="1332.1" r="10.8"/><circle cx="580.4" cy="1332.2" r="10.8"/><circle cx="585.6" cy="1332.3" r="10.8"/><circle cx="590.7" cy="1332.4" r="10.8"/><circle cx="595.9" cy="1332.5" r="10.8"/><circle cx="601.1" cy="1332.6" r="10.8"/><circle cx="606.3" cy="1332.7" r="10.8"/><circle cx="611.5" cy="1332.8" r="10.8"/><circle cx="616.7" cy="1332.9" r="10.8"/><circle cx="621.8" cy="1333.0" r="10.8"/><circle cx="627.0" cy="1333.1" r="10.8"/><circle cx="632.2" cy="1333.2" r="10.8"/><circle cx="637.4" cy="1333.3" r="10.8"/><circle cx="642.6" cy="1333.4" r="10.8"/><circle cx="647.8" cy="1333.5" r="10.8"/><circle cx="652.9" cy="1333.6" r="10.8"/><circle cx="658.1" cy="1333.7" r="10.8"/><circle cx="663.3" cy="1333.8" r="10.8"/><circle cx="668.5" cy="1333.9" r="10.8"/><circle cx="673.7" cy="1334.0" r="10.8"/><circle cx="678.9" cy="1334.1" r="10.8"/><circle cx="684.0" cy="1334.2" r="10.8"/><circle cx="689.2" cy="1334.3" r="10.8"/><circle cx="694.4" cy="1334.4" r="10.8"/><circle cx="699.6" cy="1334.5" r="10.8"/><circle cx="704.8" cy="1334.6" r="10.8"/><circle cx="710.0" cy="1334.7" r="10.8"/><circle cx="715.1" cy="1334.8" r="10.8"/><circle cx="720.3" cy="1335.0" r="10.8"/><circle cx="725.5" cy="1335.1" r="10.8"/><circle cx="730.7" cy="1335.2" r="10.8"/><circle cx="735.9" cy="1335.3" r="10.8"/><circle cx="741.1" cy="1335.4" r="10.8"/><circle cx="746.2" cy="1335.5" r="10.8"/><circle cx="751.4" cy="1335.6" r="10.8"/><circle cx="756.6" cy="1335.7" r="10.8"/><circle cx="761.8" cy="1335.8" r="10.8"/><circle cx="767.0" cy="1335.9" r="10.8"/><circle cx="772.1" cy="1336.1" r="10.8"/><circle cx="777.3" cy="1336.2" r="10.8"/><circle cx="782.5" cy="1336.3" r="10.8"/><circle cx="787.7" cy="1336.4" r="10.8"/><circle cx="792.9" cy="1336.6" r="10.8"/><circle cx="798.1" cy="1336.7" r="10.8"/><circle cx="803.2" cy="1336.9" r="10.8"/><circle cx="808.4" cy="1337.0" r="10.8"/><circle cx="813.6" cy="1337.2" r="10.8"/><circle cx="818.8" cy="1337.4" r="10.8"/><circle cx="824.0" cy="1337.6" r="10.8"/><circle cx="829.2" cy="1337.8" r="10.8"/><circle cx="834.3" cy="1338.0" r="10.8"/><circle cx="839.5" cy="1338.3" r="10.8"/><circle cx="844.7" cy="1338.6" r="10.8"/><circle cx="849.9" cy="1338.9" r="10.8"/><circle cx="855.1" cy="1339.3" r="10.8"/><circle cx="860.3" cy="1339.7" r="10.8"/><circle cx="865.4" cy="1340.2" r="10.8"/><circle cx="870.6" cy="1340.8" r="10.8"/><circle cx="875.8" cy="1341.4" r="10.8"/><circle cx="881.0" cy="1342.2" r="10.8"/><circle cx="886.2" cy="1343.1" r="10.8"/><circle cx="891.4" cy="1344.1" r="10.8"/><circle cx="896.5" cy="1345.3" r="10.8"/><circle cx="901.7" cy="1346.7" r="10.8"/><circle cx="906.9" cy="1348.4" r="10.8"/><circle cx="912.1" cy="1350.3" r="10.8"/><circle cx="917.3" cy="1352.6" r="10.8"/><circle cx="922.5" cy="1355.3" r="10.8"/><circle cx="927.6" cy="1358.5" r="10.8"/><circle cx="932.8" cy="1362.3" r="10.8"/><circle cx="938.0" cy="1366.8" r="10.8"/><circle cx="943.2" cy="1372.2" r="10.8"/><circle cx="948.4" cy="1378.5" r="10.8"/><circle cx="953.6" cy="1386.1" r="10.8"/><circle cx="958.7" cy="1395.0" r="10.8"/><circle cx="963.9" cy="1405.6" r="10.8"/><circle cx="969.1" cy="1418.2" r="10.8"/><circle cx="974.3" cy="1433.2" r="10.8"/><circle cx="979.5" cy="1451.0" r="10.8"/><circle cx="984.7" cy="1472.2" r="10.8"/><circle cx="989.8" cy="1497.4" r="10.8"/><circle cx="995.0" cy="1527.4" r="10.8"/><circle cx="1000.2" cy="1563.0" r="10.8"/><circle cx="1005.4" cy="1605.4" r="10.8"/><circle cx="1010.6" cy="1655.8" r="10.8"/><circle cx="1015.7" cy="1715.8" r="10.8"/><circle cx="1020.9" cy="1787.2" r="10.8"/><circle cx="1026.1" cy="1872.1" r="10.8"/><circle cx="1031.3" cy="1973.1" r="10.8"/><circle cx="1036.5" cy="2093.3" r="10.8"/><circle cx="1041.7" cy="2236.3" r="10.8"/>
</g>
</g>
<text transform="translate(249.5 1745.3) scale(0.988 1)" font-size="46.5">PSC with ETL SnO</text>
<text transform="translate(667 1757.9) scale(1.050 1)" font-size="32">2</text>
<line x1="251" y1="1796" x2="346" y2="1796" stroke="#000000" stroke-width="8.5" stroke-linecap="round"/>
<text transform="translate(356.3 1810.2) scale(0.938 1)" font-size="44">PEDOT:PSS</text>
<line x1="251" y1="1849.4" x2="346" y2="1849.4" stroke="#ff0000" stroke-width="8.5" stroke-linecap="round"/>
<circle cx="298.6" cy="1849.4" r="14.7" fill="#ff0000"/>
<text transform="translate(356.3 1864.1) scale(0.938 1)" font-size="44">Cu</text>
<text transform="translate(413.5 1875.4) scale(0.960 1)" font-size="27">2</text>
<text transform="translate(427.3 1864.1) scale(0.938 1)" font-size="44">O</text>
<line x1="251" y1="1913.2" x2="346" y2="1913.2" stroke="#0000ff" stroke-width="8.5" stroke-linecap="round"/>
<text transform="translate(356.3 1928) scale(0.938 1)" font-size="44">CuSCN</text>
<line x1="251" y1="1966.9" x2="346" y2="1966.9" stroke="#008000" stroke-width="8.5" stroke-linecap="round"/>
<circle cx="298.6" cy="1966.9" r="10.5" fill="#008000"/>
<text transform="translate(356.3 1981.4) scale(0.938 1)" font-size="44">CuI</text>
</g>
<g id="panel-d">
<g shape-rendering="crispEdges">
<rect x="1339.1" y="1206" width="5" height="1132.1"/>
<rect x="1319.1" y="2313.1" width="1060.9" height="5"/>
<rect x="1319.1" y="2207.7" width="22" height="5"/>
<rect x="1319.1" y="2102.2" width="22" height="5"/>
<rect x="1319.1" y="1996.8" width="22" height="5"/>
<rect x="1319.1" y="1891.3" width="22" height="5"/>
<rect x="1319.1" y="1785.9" width="22" height="5"/>
<rect x="1319.1" y="1680.5" width="22" height="5"/>
<rect x="1319.1" y="1575" width="22" height="5"/>
<rect x="1319.1" y="1469.6" width="22" height="5"/>
<rect x="1319.1" y="1364.1" width="22" height="5"/>
<rect x="1319.1" y="1258.7" width="22" height="5"/>
<rect x="1442.7" y="2315.6" width="5" height="22"/>
<rect x="1546.3" y="2315.6" width="5" height="22"/>
<rect x="1649.9" y="2315.6" width="5" height="22"/>
<rect x="1753.5" y="2315.6" width="5" height="22"/>
<rect x="1857" y="2315.6" width="5" height="22"/>
<rect x="1960.6" y="2315.6" width="5" height="22"/>
<rect x="2064.2" y="2315.6" width="5" height="22"/>
<rect x="2167.8" y="2315.6" width="5" height="22"/>
<rect x="2271.4" y="2315.6" width="5" height="22"/>
<rect x="2375" y="2315.6" width="5" height="22"/>
</g>
<text transform="translate(1304.4 2328.6) scale(0.955 1)" font-size="43.5" text-anchor="end">0</text>
<text transform="translate(1304.4 2223.2) scale(0.955 1)" font-size="43.5" text-anchor="end">2</text>
<text transform="translate(1304.4 2117.7) scale(0.955 1)" font-size="43.5" text-anchor="end">4</text>
<text transform="translate(1304.4 2012.3) scale(0.955 1)" font-size="43.5" text-anchor="end">6</text>
<text transform="translate(1304.4 1906.8) scale(0.955 1)" font-size="43.5" text-anchor="end">8</text>
<text transform="translate(1304.4 1801.4) scale(0.955 1)" font-size="43.5" text-anchor="end">10</text>
<text transform="translate(1304.4 1696) scale(0.955 1)" font-size="43.5" text-anchor="end">12</text>
<text transform="translate(1304.4 1590.5) scale(0.955 1)" font-size="43.5" text-anchor="end">14</text>
<text transform="translate(1304.4 1485.1) scale(0.955 1)" font-size="43.5" text-anchor="end">16</text>
<text transform="translate(1304.4 1379.6) scale(0.955 1)" font-size="43.5" text-anchor="end">18</text>
<text transform="translate(1304.4 1274.2) scale(0.955 1)" font-size="43.5" text-anchor="end">20</text>
<text transform="translate(1342.4 2386) scale(0.955 1)" font-size="43.5" text-anchor="middle">0.0</text>
<text transform="translate(1446 2386) scale(0.955 1)" font-size="43.5" text-anchor="middle">0.1</text>
<text transform="translate(1549.6 2386) scale(0.955 1)" font-size="43.5" text-anchor="middle">0.2</text>
<text transform="translate(1653.2 2386) scale(0.955 1)" font-size="43.5" text-anchor="middle">0.3</text>
<text transform="translate(1756.8 2386) scale(0.955 1)" font-size="43.5" text-anchor="middle">0.4</text>
<text transform="translate(1860.3 2386) scale(0.955 1)" font-size="43.5" text-anchor="middle">0.5</text>
<text transform="translate(1963.9 2386) scale(0.955 1)" font-size="43.5" text-anchor="middle">0.6</text>
<text transform="translate(2067.5 2386) scale(0.955 1)" font-size="43.5" text-anchor="middle">0.7</text>
<text transform="translate(2171.1 2386) scale(0.955 1)" font-size="43.5" text-anchor="middle">0.8</text>
<text transform="translate(2274.7 2386) scale(0.955 1)" font-size="43.5" text-anchor="middle">0.9</text>
<text transform="translate(2378.3 2386) scale(0.955 1)" font-size="43.5" text-anchor="middle">1.0</text>
<text transform="translate(1234.1 2049.8) rotate(-90) scale(0.935 1)" font-size="49" style="stroke-width:1.1px">Current density / mA.cm</text>
<text transform="translate(1216.8 1499.3) rotate(-90)" font-size="35" font-weight="normal" style="stroke:none">−</text>
<text transform="translate(1214.6 1480.3) rotate(-90) scale(0.970 1)" font-size="35">2</text>
<text transform="translate(1146.5 1281) scale(0.975 1)" font-size="80">(d)</text>
<clipPath id="cpd"><rect x="1341.1" y="0" width="1075.9" height="2317.6"/></clipPath>
<g clip-path="url(#cpd)">
<polyline points="1341.4,1437.3 1346.6,1437.4 1351.8,1437.6 1356.9,1437.7 1362.1,1437.9 1367.3,1438.0 1372.5,1438.1 1377.6,1438.3 1382.8,1438.4 1388.0,1438.6 1393.2,1438.7 1398.4,1438.9 1403.5,1439.0 1408.7,1439.2 1413.9,1439.3 1419.1,1439.5 1424.3,1439.6 1429.4,1439.7 1434.6,1439.9 1439.8,1440.0 1445.0,1440.2 1450.2,1440.3 1455.3,1440.5 1460.5,1440.6 1465.7,1440.8 1470.9,1440.9 1476.1,1441.0 1481.2,1441.2 1486.4,1441.3 1491.6,1441.5 1496.8,1441.6 1502.0,1441.8 1507.1,1441.9 1512.3,1442.1 1517.5,1442.2 1522.7,1442.4 1527.9,1442.5 1533.0,1442.6 1538.2,1442.8 1543.4,1442.9 1548.6,1443.1 1553.8,1443.2 1558.9,1443.4 1564.1,1443.5 1569.3,1443.7 1574.5,1443.8 1579.6,1443.9 1584.8,1444.1 1590.0,1444.2 1595.2,1444.4 1600.4,1444.5 1605.5,1444.7 1610.7,1444.8 1615.9,1445.0 1621.1,1445.1 1626.3,1445.3 1631.4,1445.4 1636.6,1445.5 1641.8,1445.7 1647.0,1445.8 1652.2,1446.0 1657.3,1446.1 1662.5,1446.3 1667.7,1446.4 1672.9,1446.6 1678.1,1446.7 1683.2,1446.8 1688.4,1447.0 1693.6,1447.1 1698.8,1447.3 1704.0,1447.4 1709.1,1447.6 1714.3,1447.7 1719.5,1447.9 1724.7,1448.0 1729.9,1448.2 1735.0,1448.3 1740.2,1448.4 1745.4,1448.6 1750.6,1448.7 1755.8,1448.9 1760.9,1449.0 1766.1,1449.2 1771.3,1449.3 1776.5,1449.5 1781.7,1449.6 1786.8,1449.8 1792.0,1449.9 1797.2,1450.1 1802.4,1450.2 1807.5,1450.3 1812.7,1450.5 1817.9,1450.6 1823.1,1450.8 1828.3,1450.9 1833.4,1451.1 1838.6,1451.2 1843.8,1451.4 1849.0,1451.5 1854.2,1451.7 1859.3,1451.8 1864.5,1452.0 1869.7,1452.1 1874.9,1452.3 1880.1,1452.5 1885.2,1452.6 1890.4,1452.8 1895.6,1452.9 1900.8,1453.1 1906.0,1453.3 1911.1,1453.4 1916.3,1453.6 1921.5,1453.8 1926.7,1453.9 1931.9,1454.1 1937.0,1454.3 1942.2,1454.5 1947.4,1454.6 1952.6,1454.8 1957.8,1455.0 1962.9,1455.2 1968.1,1455.5 1973.3,1455.7 1978.5,1455.9 1983.7,1456.1 1988.8,1456.4 1994.0,1456.6 1999.2,1456.9 2004.4,1457.2 2009.5,1457.5 2014.7,1457.8 2019.9,1458.2 2025.1,1458.5 2030.3,1458.9 2035.4,1459.4 2040.6,1459.8 2045.8,1460.3 2051.0,1460.8 2056.2,1461.4 2061.3,1462.0 2066.5,1462.7 2071.7,1463.5 2076.9,1464.3 2082.1,1465.2 2087.2,1466.1 2092.4,1467.2 2097.6,1468.4 2102.8,1469.7 2108.0,1471.1 2113.1,1472.7 2118.3,1474.5 2123.5,1476.4 2128.7,1478.6 2133.9,1481.0 2139.0,1483.6 2144.2,1486.6 2149.4,1489.8 2154.6,1493.5 2159.8,1497.5 2164.9,1502.0 2170.1,1507.0 2175.3,1512.5 2180.5,1518.7 2185.7,1525.6 2190.8,1533.3 2196.0,1541.8 2201.2,1551.4 2206.4,1562.0 2211.5,1573.8 2216.7,1587.0 2221.9,1601.8 2227.1,1618.2 2232.3,1636.5 2237.4,1657.0 2242.6,1679.8 2247.8,1705.2 2253.0,1733.6 2258.2,1765.3 2263.3,1800.6 2268.5,1840.1 2273.7,1884.1 2278.9,1933.2 2284.1,1988.0 2289.2,2049.2 2294.4,2117.5 2299.6,2193.8 2304.8,2278.9 2310.0,2373.8" fill="none" stroke="#000000" stroke-width="8.5" stroke-linejoin="round"/>
<path d="M2270.6 1828.6L2271.2 1833.5M2275.6 1872.2L2276.6 1882.1M2280.5 1920.8L2282.0 1936.3M2285.5 1975.0L2287.4 1996.8M2290.5 2035.5L2292.7 2064.3M2295.5 2103.1L2298.1 2139.7M2300.6 2178.5L2303.4 2223.8M2305.6 2262.6L2308.7 2317.8" fill="none" stroke="#ff0000" stroke-width="8" stroke-linecap="round"/>
<g fill="#ff0000">
<circle cx="1346.4" cy="1413.2" r="16.2"/><circle cx="1351.5" cy="1413.3" r="16.2"/><circle cx="1356.7" cy="1413.4" r="16.2"/><circle cx="1361.9" cy="1413.6" r="16.2"/><circle cx="1367.1" cy="1413.7" r="16.2"/><circle cx="1372.3" cy="1413.8" r="16.2"/><circle cx="1377.4" cy="1413.9" r="16.2"/><circle cx="1382.6" cy="1414.1" r="16.2"/><circle cx="1387.8" cy="1414.2" r="16.2"/><circle cx="1393.0" cy="1414.3" r="16.2"/><circle cx="1398.2" cy="1414.5" r="16.2"/><circle cx="1403.3" cy="1414.6" r="16.2"/><circle cx="1408.5" cy="1414.7" r="16.2"/><circle cx="1413.7" cy="1414.9" r="16.2"/><circle cx="1418.9" cy="1415.0" r="16.2"/><circle cx="1424.1" cy="1415.1" r="16.2"/><circle cx="1429.2" cy="1415.3" r="16.2"/><circle cx="1434.4" cy="1415.4" r="16.2"/><circle cx="1439.6" cy="1415.5" r="16.2"/><circle cx="1444.8" cy="1415.7" r="16.2"/><circle cx="1450.0" cy="1415.8" r="16.2"/><circle cx="1455.1" cy="1415.9" r="16.2"/><circle cx="1460.3" cy="1416.1" r="16.2"/><circle cx="1465.5" cy="1416.2" r="16.2"/><circle cx="1470.7" cy="1416.3" r="16.2"/><circle cx="1475.9" cy="1416.4" r="16.2"/><circle cx="1481.0" cy="1416.6" r="16.2"/><circle cx="1486.2" cy="1416.7" r="16.2"/><circle cx="1491.4" cy="1416.8" r="16.2"/><circle cx="1496.6" cy="1417.0" r="16.2"/><circle cx="1501.8" cy="1417.1" r="16.2"/><circle cx="1506.9" cy="1417.2" r="16.2"/><circle cx="1512.1" cy="1417.4" r="16.2"/><circle cx="1517.3" cy="1417.5" r="16.2"/><circle cx="1522.5" cy="1417.6" r="16.2"/><circle cx="1527.6" cy="1417.8" r="16.2"/><circle cx="1532.8" cy="1417.9" r="16.2"/><circle cx="1538.0" cy="1418.0" r="16.2"/><circle cx="1543.2" cy="1418.2" r="16.2"/><circle cx="1548.4" cy="1418.3" r="16.2"/><circle cx="1553.5" cy="1418.4" r="16.2"/><circle cx="1558.7" cy="1418.6" r="16.2"/><circle cx="1563.9" cy="1418.7" r="16.2"/><circle cx="1569.1" cy="1418.8" r="16.2"/><circle cx="1574.3" cy="1419.0" r="16.2"/><circle cx="1579.4" cy="1419.1" r="16.2"/><circle cx="1584.6" cy="1419.2" r="16.2"/><circle cx="1589.8" cy="1419.3" r="16.2"/><circle cx="1595.0" cy="1419.5" r="16.2"/><circle cx="1600.2" cy="1419.6" r="16.2"/><circle cx="1605.3" cy="1419.7" r="16.2"/><circle cx="1610.5" cy="1419.9" r="16.2"/><circle cx="1615.7" cy="1420.0" r="16.2"/><circle cx="1620.9" cy="1420.1" r="16.2"/><circle cx="1626.1" cy="1420.3" r="16.2"/><circle cx="1631.2" cy="1420.4" r="16.2"/><circle cx="1636.4" cy="1420.5" r="16.2"/><circle cx="1641.6" cy="1420.7" r="16.2"/><circle cx="1646.8" cy="1420.8" r="16.2"/><circle cx="1652.0" cy="1420.9" r="16.2"/><circle cx="1657.1" cy="1421.1" r="16.2"/><circle cx="1662.3" cy="1421.2" r="16.2"/><circle cx="1667.5" cy="1421.3" r="16.2"/><circle cx="1672.7" cy="1421.5" r="16.2"/><circle cx="1677.9" cy="1421.6" r="16.2"/><circle cx="1683.0" cy="1421.7" r="16.2"/><circle cx="1688.2" cy="1421.9" r="16.2"/><circle cx="1693.4" cy="1422.0" r="16.2"/><circle cx="1698.6" cy="1422.1" r="16.2"/><circle cx="1703.8" cy="1422.3" r="16.2"/><circle cx="1708.9" cy="1422.4" r="16.2"/><circle cx="1714.1" cy="1422.5" r="16.2"/><circle cx="1719.3" cy="1422.6" r="16.2"/><circle cx="1724.5" cy="1422.8" r="16.2"/><circle cx="1729.6" cy="1422.9" r="16.2"/><circle cx="1734.8" cy="1423.0" r="16.2"/><circle cx="1740.0" cy="1423.2" r="16.2"/><circle cx="1745.2" cy="1423.3" r="16.2"/><circle cx="1750.4" cy="1423.4" r="16.2"/><circle cx="1755.5" cy="1423.6" r="16.2"/><circle cx="1760.7" cy="1423.7" r="16.2"/><circle cx="1765.9" cy="1423.8" r="16.2"/><circle cx="1771.1" cy="1424.0" r="16.2"/><circle cx="1776.3" cy="1424.1" r="16.2"/><circle cx="1781.4" cy="1424.2" r="16.2"/><circle cx="1786.6" cy="1424.4" r="16.2"/><circle cx="1791.8" cy="1424.5" r="16.2"/><circle cx="1797.0" cy="1424.6" r="16.2"/><circle cx="1802.2" cy="1424.8" r="16.2"/><circle cx="1807.3" cy="1424.9" r="16.2"/><circle cx="1812.5" cy="1425.0" r="16.2"/><circle cx="1817.7" cy="1425.2" r="16.2"/><circle cx="1822.9" cy="1425.3" r="16.2"/><circle cx="1828.1" cy="1425.4" r="16.2"/><circle cx="1833.2" cy="1425.6" r="16.2"/><circle cx="1838.4" cy="1425.7" r="16.2"/><circle cx="1843.6" cy="1425.9" r="16.2"/><circle cx="1848.8" cy="1426.0" r="16.2"/><circle cx="1854.0" cy="1426.1" r="16.2"/><circle cx="1859.1" cy="1426.3" r="16.2"/><circle cx="1864.3" cy="1426.4" r="16.2"/><circle cx="1869.5" cy="1426.5" r="16.2"/><circle cx="1874.7" cy="1426.7" r="16.2"/><circle cx="1879.9" cy="1426.8" r="16.2"/><circle cx="1885.0" cy="1427.0" r="16.2"/><circle cx="1890.2" cy="1427.1" r="16.2"/><circle cx="1895.4" cy="1427.3" r="16.2"/><circle cx="1900.6" cy="1427.4" r="16.2"/><circle cx="1905.8" cy="1427.6" r="16.2"/><circle cx="1910.9" cy="1427.7" r="16.2"/><circle cx="1916.1" cy="1427.9" r="16.2"/><circle cx="1921.3" cy="1428.0" r="16.2"/><circle cx="1926.5" cy="1428.2" r="16.2"/><circle cx="1931.6" cy="1428.3" r="16.2"/><circle cx="1936.8" cy="1428.5" r="16.2"/><circle cx="1942.0" cy="1428.7" r="16.2"/><circle cx="1947.2" cy="1428.8" r="16.2"/><circle cx="1952.4" cy="1429.0" r="16.2"/><circle cx="1957.5" cy="1429.2" r="16.2"/><circle cx="1962.7" cy="1429.4" r="16.2"/><circle cx="1967.9" cy="1429.6" r="16.2"/><circle cx="1973.1" cy="1429.8" r="16.2"/><circle cx="1978.3" cy="1430.0" r="16.2"/><circle cx="1983.4" cy="1430.2" r="16.2"/><circle cx="1988.6" cy="1430.5" r="16.2"/><circle cx="1993.8" cy="1430.7" r="16.2"/><circle cx="1999.0" cy="1431.0" r="16.2"/><circle cx="2004.2" cy="1431.2" r="16.2"/><circle cx="2009.3" cy="1431.5" r="16.2"/><circle cx="2014.5" cy="1431.8" r="16.2"/><circle cx="2019.7" cy="1432.2" r="16.2"/><circle cx="2024.9" cy="1432.5" r="16.2"/><circle cx="2030.1" cy="1432.9" r="16.2"/><circle cx="2035.2" cy="1433.3" r="16.2"/><circle cx="2040.4" cy="1433.7" r="16.2"/><circle cx="2045.6" cy="1434.2" r="16.2"/><circle cx="2050.8" cy="1434.7" r="16.2"/><circle cx="2056.0" cy="1435.3" r="16.2"/><circle cx="2061.1" cy="1435.9" r="16.2"/><circle cx="2066.3" cy="1436.6" r="16.2"/><circle cx="2071.5" cy="1437.3" r="16.2"/><circle cx="2076.7" cy="1438.1" r="16.2"/><circle cx="2081.9" cy="1438.9" r="16.2"/><circle cx="2087.0" cy="1439.9" r="16.2"/><circle cx="2092.2" cy="1440.9" r="16.2"/><circle cx="2097.4" cy="1442.1" r="16.2"/><circle cx="2102.6" cy="1443.4" r="16.2"/><circle cx="2107.8" cy="1444.8" r="16.2"/><circle cx="2112.9" cy="1446.4" r="16.2"/><circle cx="2118.1" cy="1448.1" r="16.2"/><circle cx="2123.3" cy="1450.0" r="16.2"/><circle cx="2128.5" cy="1452.1" r="16.2"/><circle cx="2133.6" cy="1454.5" r="16.2"/><circle cx="2138.8" cy="1457.1" r="16.2"/><circle cx="2144.0" cy="1460.0" r="16.2"/><circle cx="2149.2" cy="1463.2" r="16.2"/><circle cx="2154.4" cy="1466.8" r="16.2"/><circle cx="2159.5" cy="1470.7" r="16.2"/><circle cx="2164.7" cy="1475.2" r="16.2"/><circle cx="2169.9" cy="1480.1" r="16.2"/><circle cx="2175.1" cy="1485.6" r="16.2"/><circle cx="2180.3" cy="1491.7" r="16.2"/><circle cx="2185.4" cy="1498.5" r="16.2"/><circle cx="2190.6" cy="1506.1" r="16.2"/><circle cx="2195.8" cy="1514.5" r="16.2"/><circle cx="2201.0" cy="1523.9" r="16.2"/><circle cx="2206.2" cy="1534.4" r="16.2"/><circle cx="2211.3" cy="1546.1" r="16.2"/><circle cx="2216.5" cy="1559.2" r="16.2"/><circle cx="2221.7" cy="1573.8" r="16.2"/><circle cx="2226.9" cy="1590.0" r="16.2"/><circle cx="2232.1" cy="1608.1" r="16.2"/><circle cx="2237.2" cy="1628.3" r="16.2"/><circle cx="2242.4" cy="1650.8" r="16.2"/><circle cx="2247.6" cy="1676.0" r="16.2"/><circle cx="2252.8" cy="1704.1" r="16.2"/><circle cx="2258.0" cy="1735.4" r="16.2"/><circle cx="2263.1" cy="1770.3" r="16.2"/><circle cx="2268.3" cy="1809.3" r="16.2"/><circle cx="2273.5" cy="1852.8" r="16.2"/><circle cx="2278.7" cy="1901.4" r="16.2"/><circle cx="2283.9" cy="1955.6" r="16.2"/><circle cx="2289.0" cy="2016.1" r="16.2"/><circle cx="2294.2" cy="2083.7" r="16.2"/><circle cx="2299.4" cy="2159.1" r="16.2"/><circle cx="2304.6" cy="2243.2" r="16.2"/>
</g>
<polyline points="1337.5,1412.9 1342.6,1413.1 1347.8,1413.2 1353.0,1413.3 1358.2,1413.5 1363.4,1413.6 1368.5,1413.7 1373.7,1413.9 1378.9,1414.0 1384.1,1414.1 1389.3,1414.2 1394.4,1414.4 1399.6,1414.5 1404.8,1414.6 1410.0,1414.8 1415.1,1414.9 1420.3,1415.0 1425.5,1415.2 1430.7,1415.3 1435.9,1415.4 1441.0,1415.6 1446.2,1415.7 1451.4,1415.8 1456.6,1416.0 1461.8,1416.1 1466.9,1416.2 1472.1,1416.4 1477.3,1416.5 1482.5,1416.6 1487.7,1416.8 1492.8,1416.9 1498.0,1417.0 1503.2,1417.1 1508.4,1417.3 1513.6,1417.4 1518.7,1417.5 1523.9,1417.7 1529.1,1417.8 1534.3,1417.9 1539.5,1418.1 1544.6,1418.2 1549.8,1418.3 1555.0,1418.5 1560.2,1418.6 1565.4,1418.7 1570.5,1418.9 1575.7,1419.0 1580.9,1419.1 1586.1,1419.3 1591.3,1419.4 1596.4,1419.5 1601.6,1419.7 1606.8,1419.8 1612.0,1419.9 1617.1,1420.0 1622.3,1420.2 1627.5,1420.3 1632.7,1420.4 1637.9,1420.6 1643.0,1420.7 1648.2,1420.8 1653.4,1421.0 1658.6,1421.1 1663.8,1421.2 1668.9,1421.4 1674.1,1421.5 1679.3,1421.6 1684.5,1421.8 1689.7,1421.9 1694.8,1422.0 1700.0,1422.2 1705.2,1422.3 1710.4,1422.4 1715.6,1422.6 1720.7,1422.7 1725.9,1422.8 1731.1,1422.9 1736.3,1423.1 1741.5,1423.2 1746.6,1423.3 1751.8,1423.5 1757.0,1423.6 1762.2,1423.7 1767.4,1423.9 1772.5,1424.0 1777.7,1424.1 1782.9,1424.3 1788.1,1424.4 1793.3,1424.5 1798.4,1424.7 1803.6,1424.8 1808.8,1424.9 1814.0,1425.1 1819.1,1425.2 1824.3,1425.3 1829.5,1425.5 1834.7,1425.6 1839.9,1425.8 1845.0,1425.9 1850.2,1426.0 1855.4,1426.2 1860.6,1426.3 1865.8,1426.4 1870.9,1426.6 1876.1,1426.7 1881.3,1426.9 1886.5,1427.0 1891.7,1427.2 1896.8,1427.3 1902.0,1427.5 1907.2,1427.6 1912.4,1427.8 1917.6,1427.9 1922.7,1428.1 1927.9,1428.2 1933.1,1428.4 1938.3,1428.6 1943.5,1428.7 1948.6,1428.9 1953.8,1429.1 1959.0,1429.3 1964.2,1429.5 1969.4,1429.7 1974.5,1429.9 1979.7,1430.1 1984.9,1430.3 1990.1,1430.6 1995.3,1430.8 2000.4,1431.1 2005.6,1431.3 2010.8,1431.6 2016.0,1432.0 2021.2,1432.3 2026.3,1432.7 2031.5,1433.0 2036.7,1433.5 2041.9,1433.9 2047.0,1434.4 2052.2,1434.9 2057.4,1435.5 2062.6,1436.1 2067.8,1436.8 2072.9,1437.6 2078.1,1438.4 2083.3,1439.3 2088.5,1440.3 2093.7,1441.4 2098.8,1442.6 2104.0,1443.9 2109.2,1445.4 2114.4,1447.0 2119.6,1448.8 2124.7,1450.8 2129.9,1453.0 2135.1,1455.4 2140.3,1458.1 2145.5,1461.1 2150.6,1464.5 2155.8,1468.2 2161.0,1472.4 2166.2,1477.0 2171.4,1482.1 2176.5,1487.8 2181.7,1494.2 2186.9,1501.3 2192.1,1509.2 2197.3,1518.0 2202.4,1527.8 2207.6,1538.7 2212.8,1550.9 2218.0,1564.5 2223.2,1579.7 2228.3,1596.6 2233.5,1615.5 2238.7,1636.6 2243.9,1660.1 2249.0,1686.3 2254.2,1715.5 2259.4,1748.2 2264.6,1784.6 2269.8,1825.3 2274.9,1870.7 2280.1,1921.3 2285.3,1977.8 2290.5,2040.9 2295.7,2111.4 2300.8,2190.0 2306.0,2277.7 2311.2,2375.7" fill="none" stroke="#0000ff" stroke-width="8.5" stroke-linejoin="round"/>
<path d="M2250.5 1560.2L2250.9 1562.6M2255.4 1588.1L2256.3 1593.6M2260.4 1619.3L2261.7 1628.4M2265.4 1654.0L2267.1 1667.1M2270.4 1692.8L2272.5 1710.4M2275.4 1736.2L2277.8 1758.7M2280.4 1784.5L2283.1 1812.7M2285.5 1838.6L2288.4 1873.0M2290.5 1898.9L2293.7 1940.4M2295.6 1966.2L2299.0 2015.6M2300.7 2041.5L2304.3 2099.6M2305.8 2125.5L2309.6 2193.4M2310.9 2219.3L2314.8 2298.2M2316.0 2324.1L2320.1 2415.2" fill="none" stroke="#008000" stroke-width="8" stroke-linecap="round"/>
<g fill="#008000">
<circle cx="1341.7" cy="1291.3" r="10.8"/><circle cx="1346.9" cy="1291.4" r="10.8"/><circle cx="1352.1" cy="1291.5" r="10.8"/><circle cx="1357.2" cy="1291.6" r="10.8"/><circle cx="1362.4" cy="1291.7" r="10.8"/><circle cx="1367.6" cy="1291.8" r="10.8"/><circle cx="1372.8" cy="1291.9" r="10.8"/><circle cx="1378.0" cy="1292.0" r="10.8"/><circle cx="1383.1" cy="1292.1" r="10.8"/><circle cx="1388.3" cy="1292.2" r="10.8"/><circle cx="1393.5" cy="1292.3" r="10.8"/><circle cx="1398.7" cy="1292.4" r="10.8"/><circle cx="1403.9" cy="1292.5" r="10.8"/><circle cx="1409.0" cy="1292.7" r="10.8"/><circle cx="1414.2" cy="1292.8" r="10.8"/><circle cx="1419.4" cy="1292.9" r="10.8"/><circle cx="1424.6" cy="1293.0" r="10.8"/><circle cx="1429.8" cy="1293.1" r="10.8"/><circle cx="1434.9" cy="1293.2" r="10.8"/><circle cx="1440.1" cy="1293.3" r="10.8"/><circle cx="1445.3" cy="1293.4" r="10.8"/><circle cx="1450.5" cy="1293.5" r="10.8"/><circle cx="1455.7" cy="1293.6" r="10.8"/><circle cx="1460.8" cy="1293.7" r="10.8"/><circle cx="1466.0" cy="1293.8" r="10.8"/><circle cx="1471.2" cy="1294.0" r="10.8"/><circle cx="1476.4" cy="1294.1" r="10.8"/><circle cx="1481.6" cy="1294.2" r="10.8"/><circle cx="1486.7" cy="1294.3" r="10.8"/><circle cx="1491.9" cy="1294.4" r="10.8"/><circle cx="1497.1" cy="1294.5" r="10.8"/><circle cx="1502.3" cy="1294.6" r="10.8"/><circle cx="1507.4" cy="1294.7" r="10.8"/><circle cx="1512.6" cy="1294.8" r="10.8"/><circle cx="1517.8" cy="1294.9" r="10.8"/><circle cx="1523.0" cy="1295.0" r="10.8"/><circle cx="1528.2" cy="1295.1" r="10.8"/><circle cx="1533.3" cy="1295.3" r="10.8"/><circle cx="1538.5" cy="1295.4" r="10.8"/><circle cx="1543.7" cy="1295.5" r="10.8"/><circle cx="1548.9" cy="1295.6" r="10.8"/><circle cx="1554.1" cy="1295.7" r="10.8"/><circle cx="1559.2" cy="1295.8" r="10.8"/><circle cx="1564.4" cy="1295.9" r="10.8"/><circle cx="1569.6" cy="1296.0" r="10.8"/><circle cx="1574.8" cy="1296.1" r="10.8"/><circle cx="1580.0" cy="1296.2" r="10.8"/><circle cx="1585.1" cy="1296.3" r="10.8"/><circle cx="1590.3" cy="1296.4" r="10.8"/><circle cx="1595.5" cy="1296.5" r="10.8"/><circle cx="1600.7" cy="1296.7" r="10.8"/><circle cx="1605.9" cy="1296.8" r="10.8"/><circle cx="1611.0" cy="1296.9" r="10.8"/><circle cx="1616.2" cy="1297.0" r="10.8"/><circle cx="1621.4" cy="1297.1" r="10.8"/><circle cx="1626.6" cy="1297.2" r="10.8"/><circle cx="1631.8" cy="1297.3" r="10.8"/><circle cx="1636.9" cy="1297.4" r="10.8"/><circle cx="1642.1" cy="1297.5" r="10.8"/><circle cx="1647.3" cy="1297.6" r="10.8"/><circle cx="1652.5" cy="1297.7" r="10.8"/><circle cx="1657.7" cy="1297.8" r="10.8"/><circle cx="1662.8" cy="1298.0" r="10.8"/><circle cx="1668.0" cy="1298.1" r="10.8"/><circle cx="1673.2" cy="1298.2" r="10.8"/><circle cx="1678.4" cy="1298.3" r="10.8"/><circle cx="1683.6" cy="1298.4" r="10.8"/><circle cx="1688.7" cy="1298.5" r="10.8"/><circle cx="1693.9" cy="1298.6" r="10.8"/><circle cx="1699.1" cy="1298.7" r="10.8"/><circle cx="1704.3" cy="1298.8" r="10.8"/><circle cx="1709.4" cy="1298.9" r="10.8"/><circle cx="1714.6" cy="1299.0" r="10.8"/><circle cx="1719.8" cy="1299.1" r="10.8"/><circle cx="1725.0" cy="1299.3" r="10.8"/><circle cx="1730.2" cy="1299.4" r="10.8"/><circle cx="1735.3" cy="1299.5" r="10.8"/><circle cx="1740.5" cy="1299.6" r="10.8"/><circle cx="1745.7" cy="1299.7" r="10.8"/><circle cx="1750.9" cy="1299.8" r="10.8"/><circle cx="1756.1" cy="1299.9" r="10.8"/><circle cx="1761.2" cy="1300.0" r="10.8"/><circle cx="1766.4" cy="1300.1" r="10.8"/><circle cx="1771.6" cy="1300.2" r="10.8"/><circle cx="1776.8" cy="1300.3" r="10.8"/><circle cx="1782.0" cy="1300.5" r="10.8"/><circle cx="1787.1" cy="1300.6" r="10.8"/><circle cx="1792.3" cy="1300.7" r="10.8"/><circle cx="1797.5" cy="1300.8" r="10.8"/><circle cx="1802.7" cy="1300.9" r="10.8"/><circle cx="1807.9" cy="1301.0" r="10.8"/><circle cx="1813.0" cy="1301.1" r="10.8"/><circle cx="1818.2" cy="1301.2" r="10.8"/><circle cx="1823.4" cy="1301.3" r="10.8"/><circle cx="1828.6" cy="1301.4" r="10.8"/><circle cx="1833.8" cy="1301.6" r="10.8"/><circle cx="1838.9" cy="1301.7" r="10.8"/><circle cx="1844.1" cy="1301.8" r="10.8"/><circle cx="1849.3" cy="1301.9" r="10.8"/><circle cx="1854.5" cy="1302.0" r="10.8"/><circle cx="1859.7" cy="1302.1" r="10.8"/><circle cx="1864.8" cy="1302.2" r="10.8"/><circle cx="1870.0" cy="1302.4" r="10.8"/><circle cx="1875.2" cy="1302.5" r="10.8"/><circle cx="1880.4" cy="1302.6" r="10.8"/><circle cx="1885.6" cy="1302.7" r="10.8"/><circle cx="1890.7" cy="1302.8" r="10.8"/><circle cx="1895.9" cy="1302.9" r="10.8"/><circle cx="1901.1" cy="1303.1" r="10.8"/><circle cx="1906.3" cy="1303.2" r="10.8"/><circle cx="1911.4" cy="1303.3" r="10.8"/><circle cx="1916.6" cy="1303.4" r="10.8"/><circle cx="1921.8" cy="1303.6" r="10.8"/><circle cx="1927.0" cy="1303.7" r="10.8"/><circle cx="1932.2" cy="1303.9" r="10.8"/><circle cx="1937.3" cy="1304.0" r="10.8"/><circle cx="1942.5" cy="1304.1" r="10.8"/><circle cx="1947.7" cy="1304.3" r="10.8"/><circle cx="1952.9" cy="1304.4" r="10.8"/><circle cx="1958.1" cy="1304.6" r="10.8"/><circle cx="1963.2" cy="1304.8" r="10.8"/><circle cx="1968.4" cy="1304.9" r="10.8"/><circle cx="1973.6" cy="1305.1" r="10.8"/><circle cx="1978.8" cy="1305.3" r="10.8"/><circle cx="1984.0" cy="1305.5" r="10.8"/><circle cx="1989.1" cy="1305.7" r="10.8"/><circle cx="1994.3" cy="1305.9" r="10.8"/><circle cx="1999.5" cy="1306.2" r="10.8"/><circle cx="2004.7" cy="1306.4" r="10.8"/><circle cx="2009.9" cy="1306.7" r="10.8"/><circle cx="2015.0" cy="1306.9" r="10.8"/><circle cx="2020.2" cy="1307.2" r="10.8"/><circle cx="2025.4" cy="1307.6" r="10.8"/><circle cx="2030.6" cy="1307.9" r="10.8"/><circle cx="2035.8" cy="1308.3" r="10.8"/><circle cx="2040.9" cy="1308.7" r="10.8"/><circle cx="2046.1" cy="1309.1" r="10.8"/><circle cx="2051.3" cy="1309.6" r="10.8"/><circle cx="2056.5" cy="1310.1" r="10.8"/><circle cx="2061.7" cy="1310.7" r="10.8"/><circle cx="2066.8" cy="1311.3" r="10.8"/><circle cx="2072.0" cy="1312.0" r="10.8"/><circle cx="2077.2" cy="1312.8" r="10.8"/><circle cx="2082.4" cy="1313.6" r="10.8"/><circle cx="2087.6" cy="1314.5" r="10.8"/><circle cx="2092.7" cy="1315.5" r="10.8"/><circle cx="2097.9" cy="1316.6" r="10.8"/><circle cx="2103.1" cy="1317.9" r="10.8"/><circle cx="2108.3" cy="1319.2" r="10.8"/><circle cx="2113.4" cy="1320.7" r="10.8"/><circle cx="2118.6" cy="1322.4" r="10.8"/><circle cx="2123.8" cy="1324.3" r="10.8"/><circle cx="2129.0" cy="1326.3" r="10.8"/><circle cx="2134.2" cy="1328.6" r="10.8"/><circle cx="2139.3" cy="1331.1" r="10.8"/><circle cx="2144.5" cy="1334.0" r="10.8"/><circle cx="2149.7" cy="1337.1" r="10.8"/><circle cx="2154.9" cy="1340.6" r="10.8"/><circle cx="2160.1" cy="1344.5" r="10.8"/><circle cx="2165.2" cy="1348.9" r="10.8"/><circle cx="2170.4" cy="1353.7" r="10.8"/><circle cx="2175.6" cy="1359.1" r="10.8"/><circle cx="2180.8" cy="1365.1" r="10.8"/><circle cx="2186.0" cy="1371.8" r="10.8"/><circle cx="2191.1" cy="1379.3" r="10.8"/><circle cx="2196.3" cy="1387.6" r="10.8"/><circle cx="2201.5" cy="1396.9" r="10.8"/><circle cx="2206.7" cy="1407.2" r="10.8"/><circle cx="2211.9" cy="1418.8" r="10.8"/><circle cx="2217.0" cy="1431.7" r="10.8"/><circle cx="2222.2" cy="1446.1" r="10.8"/><circle cx="2227.4" cy="1462.2" r="10.8"/><circle cx="2232.6" cy="1480.1" r="10.8"/><circle cx="2237.8" cy="1500.1" r="10.8"/><circle cx="2242.9" cy="1522.5" r="10.8"/><circle cx="2248.1" cy="1547.5" r="10.8"/><circle cx="2253.3" cy="1575.3" r="10.8"/><circle cx="2258.5" cy="1606.4" r="10.8"/><circle cx="2263.7" cy="1641.2" r="10.8"/><circle cx="2268.8" cy="1680.0" r="10.8"/><circle cx="2274.0" cy="1723.3" r="10.8"/><circle cx="2279.2" cy="1771.6" r="10.8"/><circle cx="2284.4" cy="1825.6" r="10.8"/><circle cx="2289.6" cy="1886.0" r="10.8"/><circle cx="2294.7" cy="1953.3" r="10.8"/><circle cx="2299.9" cy="2028.5" r="10.8"/><circle cx="2305.1" cy="2112.6" r="10.8"/><circle cx="2310.3" cy="2206.4" r="10.8"/><circle cx="2315.4" cy="2311.2" r="10.8"/>
</g>
</g>
<text transform="translate(1372.5 1743.6) scale(0.982 1)" font-size="46.5">PSC with ETL ZnOS</text>
<line x1="1374" y1="1784.3" x2="1469" y2="1784.3" stroke="#000000" stroke-width="8.5" stroke-linecap="round"/>
<text transform="translate(1479.3 1798.5) scale(0.938 1)" font-size="44">PEDOT:PSS</text>
<line x1="1374" y1="1837.7" x2="1469" y2="1837.7" stroke="#ff0000" stroke-width="8.5" stroke-linecap="round"/>
<circle cx="1421.6" cy="1837.7" r="14.7" fill="#ff0000"/>
<text transform="translate(1479.3 1852.4) scale(0.938 1)" font-size="44">Cu</text>
<text transform="translate(1536.5 1863.7) scale(0.960 1)" font-size="27">2</text>
<text transform="translate(1550.3 1852.4) scale(0.938 1)" font-size="44">O</text>
<line x1="1374" y1="1901.5" x2="1469" y2="1901.5" stroke="#0000ff" stroke-width="8.5" stroke-linecap="round"/>
<text transform="translate(1479.3 1916.3) scale(0.938 1)" font-size="44">CuSCN</text>
<line x1="1374" y1="1955.2" x2="1469" y2="1955.2" stroke="#008000" stroke-width="8.5" stroke-linecap="round"/>
<circle cx="1421.6" cy="1955.2" r="10.5" fill="#008000"/>
<text transform="translate(1479.3 1969.7) scale(0.938 1)" font-size="44">CuI</text>
</g>
<clipPath id="cpx"><rect x="0" y="2380" width="2422" height="100"/></clipPath>
<g clip-path="url(#cpx)">
<text transform="translate(731.4 2475) scale(0.963 1)" font-size="57.5" text-anchor="middle" style="stroke-width:1.5px">Voltage / V</text>
<text transform="translate(1853.7 2473) scale(0.963 1)" font-size="57.5" text-anchor="middle" style="stroke-width:1.5px">Voltage / V</text>
</g>
</svg></body></html>
